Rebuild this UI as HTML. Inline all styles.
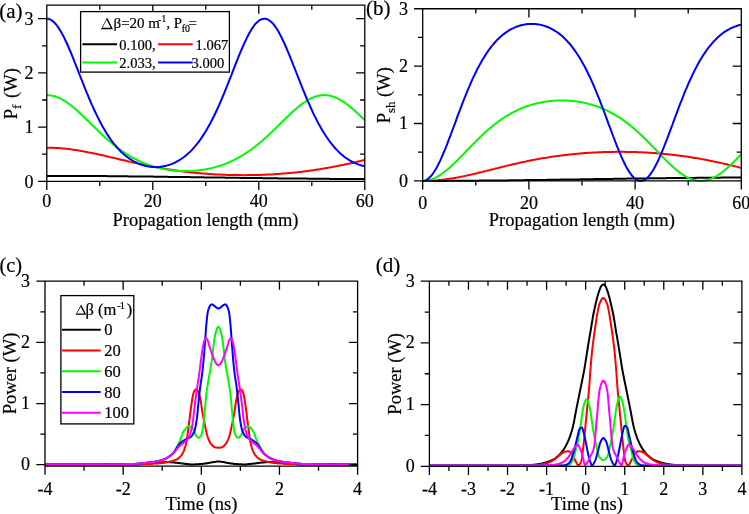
<!DOCTYPE html><html><head><meta charset="utf-8"><style>html,body{margin:0;padding:0;background:#fff;}svg{display:block}text{stroke:#000;stroke-width:0.2px}</style></head><body>
<svg style="will-change:transform" width="749" height="514" viewBox="0 0 749 514" font-family="'Liberation Serif', serif" fill="#000">
<rect width="749" height="514" fill="#fff"/>
<defs>
<clipPath id="ca"><rect x="46.8" y="2.2" width="318" height="182.1"/></clipPath>
<clipPath id="cb"><rect x="422.7" y="5.75" width="318.6" height="178.15"/></clipPath>
<clipPath id="cc"><rect x="45" y="278.2" width="312.6" height="190.9"/></clipPath>
<clipPath id="cd"><rect x="429.4" y="278.2" width="312.5" height="191.1"/></clipPath>
</defs>
<polyline points="46.8,175.9 48.1,175.9 49.4,175.9 50.8,175.9 52.1,175.9 53.4,175.9 54.8,175.9 56.1,175.9 57.4,175.9 58.7,175.9 60.0,175.9 61.4,175.9 62.7,175.9 64.0,175.9 65.3,175.9 66.7,175.9 68.0,175.9 69.3,175.9 70.7,175.9 72.0,175.9 73.3,175.9 74.6,175.9 75.9,175.9 77.3,175.9 78.6,176.0 79.9,176.0 81.2,176.0 82.6,176.0 83.9,176.0 85.2,176.0 86.5,176.0 87.9,176.0 89.2,176.0 90.5,176.0 91.8,176.0 93.2,176.0 94.5,176.0 95.8,176.1 97.2,176.1 98.5,176.1 99.8,176.1 101.1,176.1 102.4,176.1 103.8,176.1 105.1,176.1 106.4,176.1 107.8,176.2 109.1,176.2 110.4,176.2 111.7,176.2 113.0,176.2 114.4,176.2 115.7,176.2 117.0,176.2 118.3,176.2 119.7,176.3 121.0,176.3 122.3,176.3 123.6,176.3 125.0,176.3 126.3,176.3 127.6,176.3 128.9,176.4 130.3,176.4 131.6,176.4 132.9,176.4 134.2,176.4 135.6,176.4 136.9,176.4 138.2,176.5 139.6,176.5 140.9,176.5 142.2,176.5 143.5,176.5 144.8,176.5 146.2,176.6 147.5,176.6 148.8,176.6 150.1,176.6 151.5,176.6 152.8,176.6 154.1,176.7 155.4,176.7 156.8,176.7 158.1,176.7 159.4,176.7 160.8,176.7 162.1,176.8 163.4,176.8 164.7,176.8 166.1,176.8 167.4,176.8 168.7,176.9 170.0,176.9 171.3,176.9 172.7,176.9 174.0,176.9 175.3,176.9 176.6,177.0 178.0,177.0 179.3,177.0 180.6,177.0 181.9,177.0 183.3,177.1 184.6,177.1 185.9,177.1 187.2,177.1 188.6,177.1 189.9,177.1 191.2,177.2 192.6,177.2 193.9,177.2 195.2,177.2 196.5,177.2 197.9,177.3 199.2,177.3 200.5,177.3 201.8,177.3 203.1,177.3 204.5,177.4 205.8,177.4 207.1,177.4 208.4,177.4 209.8,177.4 211.1,177.5 212.4,177.5 213.8,177.5 215.1,177.5 216.4,177.5 217.7,177.5 219.1,177.6 220.4,177.6 221.7,177.6 223.0,177.6 224.4,177.6 225.7,177.7 227.0,177.7 228.3,177.7 229.6,177.7 231.0,177.7 232.3,177.8 233.6,177.8 234.9,177.8 236.3,177.8 237.6,177.8 238.9,177.8 240.2,177.9 241.6,177.9 242.9,177.9 244.2,177.9 245.6,177.9 246.9,178.0 248.2,178.0 249.5,178.0 250.9,178.0 252.2,178.0 253.5,178.0 254.8,178.1 256.1,178.1 257.5,178.1 258.8,178.1 260.1,178.1 261.4,178.1 262.8,178.2 264.1,178.2 265.4,178.2 266.8,178.2 268.1,178.2 269.4,178.2 270.7,178.3 272.1,178.3 273.4,178.3 274.7,178.3 276.0,178.3 277.4,178.3 278.7,178.4 280.0,178.4 281.3,178.4 282.6,178.4 284.0,178.4 285.3,178.4 286.6,178.4 287.9,178.5 289.3,178.5 290.6,178.5 291.9,178.5 293.2,178.5 294.6,178.5 295.9,178.5 297.2,178.6 298.6,178.6 299.9,178.6 301.2,178.6 302.5,178.6 303.9,178.6 305.2,178.6 306.5,178.6 307.8,178.7 309.2,178.7 310.5,178.7 311.8,178.7 313.1,178.7 314.4,178.7 315.8,178.7 317.1,178.7 318.4,178.8 319.8,178.8 321.1,178.8 322.4,178.8 323.7,178.8 325.1,178.8 326.4,178.8 327.7,178.8 329.0,178.8 330.4,178.9 331.7,178.9 333.0,178.9 334.3,178.9 335.7,178.9 337.0,178.9 338.3,178.9 339.6,178.9 340.9,178.9 342.3,178.9 343.6,178.9 344.9,179.0 346.2,179.0 347.6,179.0 348.9,179.0 350.2,179.0 351.6,179.0 352.9,179.0 354.2,179.0 355.5,179.0 356.9,179.0 358.2,179.0 359.5,179.0 360.8,179.0 362.2,179.1 363.5,179.1 364.8,179.1" fill="none" stroke="#000" stroke-width="2.0" stroke-linejoin="round" clip-path="url(#ca)"/>
<polyline points="422.7,180.9 424.0,180.9 425.4,180.9 426.7,180.9 428.0,180.9 429.3,180.9 430.7,180.9 432.0,180.9 433.3,180.9 434.6,180.9 436.0,180.9 437.3,180.9 438.6,180.9 440.0,180.9 441.3,180.9 442.6,180.9 443.9,180.9 445.3,180.9 446.6,180.9 447.9,180.8 449.2,180.8 450.6,180.8 451.9,180.8 453.2,180.8 454.6,180.8 455.9,180.8 457.2,180.8 458.5,180.8 459.9,180.8 461.2,180.8 462.5,180.8 463.9,180.8 465.2,180.8 466.5,180.7 467.8,180.7 469.2,180.7 470.5,180.7 471.8,180.7 473.1,180.7 474.5,180.7 475.8,180.7 477.1,180.7 478.5,180.7 479.8,180.6 481.1,180.6 482.4,180.6 483.8,180.6 485.1,180.6 486.4,180.6 487.7,180.6 489.1,180.6 490.4,180.5 491.7,180.5 493.1,180.5 494.4,180.5 495.7,180.5 497.0,180.5 498.4,180.5 499.7,180.5 501.0,180.4 502.3,180.4 503.7,180.4 505.0,180.4 506.3,180.4 507.7,180.4 509.0,180.3 510.3,180.3 511.6,180.3 513.0,180.3 514.3,180.3 515.6,180.3 517.0,180.2 518.3,180.2 519.6,180.2 520.9,180.2 522.3,180.2 523.6,180.2 524.9,180.1 526.2,180.1 527.6,180.1 528.9,180.1 530.2,180.1 531.6,180.1 532.9,180.0 534.2,180.0 535.5,180.0 536.9,180.0 538.2,180.0 539.5,179.9 540.8,179.9 542.2,179.9 543.5,179.9 544.8,179.9 546.2,179.9 547.5,179.8 548.8,179.8 550.1,179.8 551.5,179.8 552.8,179.8 554.1,179.7 555.4,179.7 556.8,179.7 558.1,179.7 559.4,179.7 560.8,179.6 562.1,179.6 563.4,179.6 564.7,179.6 566.1,179.6 567.4,179.5 568.7,179.5 570.1,179.5 571.4,179.5 572.7,179.5 574.0,179.4 575.4,179.4 576.7,179.4 578.0,179.4 579.3,179.4 580.7,179.3 582.0,179.3 583.3,179.3 584.7,179.3 586.0,179.3 587.3,179.2 588.6,179.2 590.0,179.2 591.3,179.2 592.6,179.2 593.9,179.1 595.3,179.1 596.6,179.1 597.9,179.1 599.3,179.1 600.6,179.0 601.9,179.0 603.2,179.0 604.6,179.0 605.9,179.0 607.2,178.9 608.5,178.9 609.9,178.9 611.2,178.9 612.5,178.9 613.9,178.8 615.2,178.8 616.5,178.8 617.8,178.8 619.2,178.8 620.5,178.7 621.8,178.7 623.2,178.7 624.5,178.7 625.8,178.7 627.1,178.6 628.5,178.6 629.8,178.6 631.1,178.6 632.4,178.6 633.8,178.6 635.1,178.5 636.4,178.5 637.8,178.5 639.1,178.5 640.4,178.5 641.7,178.5 643.1,178.4 644.4,178.4 645.7,178.4 647.0,178.4 648.4,178.4 649.7,178.3 651.0,178.3 652.4,178.3 653.7,178.3 655.0,178.3 656.3,178.3 657.7,178.2 659.0,178.2 660.3,178.2 661.6,178.2 663.0,178.2 664.3,178.2 665.6,178.2 667.0,178.1 668.3,178.1 669.6,178.1 670.9,178.1 672.3,178.1 673.6,178.1 674.9,178.1 676.3,178.0 677.6,178.0 678.9,178.0 680.2,178.0 681.6,178.0 682.9,178.0 684.2,178.0 685.5,177.9 686.9,177.9 688.2,177.9 689.5,177.9 690.9,177.9 692.2,177.9 693.5,177.9 694.8,177.9 696.2,177.8 697.5,177.8 698.8,177.8 700.1,177.8 701.5,177.8 702.8,177.8 704.1,177.8 705.5,177.8 706.8,177.7 708.1,177.7 709.4,177.7 710.8,177.7 712.1,177.7 713.4,177.7 714.8,177.7 716.1,177.7 717.4,177.7 718.7,177.7 720.1,177.7 721.4,177.6 722.7,177.6 724.0,177.6 725.4,177.6 726.7,177.6 728.0,177.6 729.4,177.6 730.7,177.6 732.0,177.6 733.3,177.6 734.7,177.6 736.0,177.6 737.3,177.5 738.6,177.5 740.0,177.5 741.3,177.5" fill="none" stroke="#000" stroke-width="2.0" stroke-linejoin="round" clip-path="url(#cb)"/>
<polyline points="46.8,147.7 48.1,147.7 49.4,147.7 50.8,147.7 52.1,147.8 53.4,147.8 54.8,147.9 56.1,147.9 57.4,148.0 58.7,148.1 60.0,148.2 61.4,148.3 62.7,148.4 64.0,148.5 65.3,148.7 66.7,148.8 68.0,149.0 69.3,149.1 70.7,149.3 72.0,149.5 73.3,149.7 74.6,149.9 75.9,150.1 77.3,150.3 78.6,150.5 79.9,150.7 81.2,150.9 82.6,151.2 83.9,151.4 85.2,151.7 86.5,151.9 87.9,152.2 89.2,152.4 90.5,152.7 91.8,153.0 93.2,153.3 94.5,153.5 95.8,153.8 97.2,154.1 98.5,154.4 99.8,154.7 101.1,155.0 102.4,155.3 103.8,155.6 105.1,155.9 106.4,156.2 107.8,156.5 109.1,156.9 110.4,157.2 111.7,157.5 113.0,157.8 114.4,158.1 115.7,158.4 117.0,158.7 118.3,159.1 119.7,159.4 121.0,159.7 122.3,160.0 123.6,160.3 125.0,160.6 126.3,160.9 127.6,161.2 128.9,161.5 130.3,161.9 131.6,162.2 132.9,162.5 134.2,162.8 135.6,163.1 136.9,163.3 138.2,163.6 139.6,163.9 140.9,164.2 142.2,164.5 143.5,164.8 144.8,165.1 146.2,165.3 147.5,165.6 148.8,165.9 150.1,166.1 151.5,166.4 152.8,166.6 154.1,166.9 155.4,167.1 156.8,167.4 158.1,167.6 159.4,167.9 160.8,168.1 162.1,168.3 163.4,168.6 164.7,168.8 166.1,169.0 167.4,169.2 168.7,169.4 170.0,169.6 171.3,169.8 172.7,170.0 174.0,170.2 175.3,170.4 176.6,170.6 178.0,170.8 179.3,171.0 180.6,171.2 181.9,171.3 183.3,171.5 184.6,171.7 185.9,171.8 187.2,172.0 188.6,172.1 189.9,172.3 191.2,172.4 192.6,172.6 193.9,172.7 195.2,172.8 196.5,173.0 197.9,173.1 199.2,173.2 200.5,173.3 201.8,173.4 203.1,173.5 204.5,173.6 205.8,173.8 207.1,173.8 208.4,173.9 209.8,174.0 211.1,174.1 212.4,174.2 213.8,174.3 215.1,174.4 216.4,174.4 217.7,174.5 219.1,174.6 220.4,174.6 221.7,174.7 223.0,174.7 224.4,174.8 225.7,174.8 227.0,174.9 228.3,174.9 229.6,175.0 231.0,175.0 232.3,175.0 233.6,175.1 234.9,175.1 236.3,175.1 237.6,175.1 238.9,175.1 240.2,175.1 241.6,175.2 242.9,175.2 244.2,175.2 245.6,175.2 246.9,175.1 248.2,175.1 249.5,175.1 250.9,175.1 252.2,175.1 253.5,175.1 254.8,175.0 256.1,175.0 257.5,175.0 258.8,174.9 260.1,174.9 261.4,174.8 262.8,174.8 264.1,174.7 265.4,174.7 266.8,174.6 268.1,174.6 269.4,174.5 270.7,174.4 272.1,174.4 273.4,174.3 274.7,174.2 276.0,174.1 277.4,174.0 278.7,173.9 280.0,173.8 281.3,173.7 282.6,173.6 284.0,173.5 285.3,173.4 286.6,173.3 287.9,173.2 289.3,173.1 290.6,173.0 291.9,172.8 293.2,172.7 294.6,172.6 295.9,172.4 297.2,172.3 298.6,172.1 299.9,172.0 301.2,171.8 302.5,171.7 303.9,171.5 305.2,171.3 306.5,171.2 307.8,171.0 309.2,170.8 310.5,170.6 311.8,170.4 313.1,170.2 314.4,170.0 315.8,169.8 317.1,169.6 318.4,169.4 319.8,169.2 321.1,169.0 322.4,168.8 323.7,168.6 325.1,168.3 326.4,168.1 327.7,167.9 329.0,167.6 330.4,167.4 331.7,167.1 333.0,166.9 334.3,166.6 335.7,166.4 337.0,166.1 338.3,165.8 339.6,165.6 340.9,165.3 342.3,165.0 343.6,164.8 344.9,164.5 346.2,164.2 347.6,163.9 348.9,163.6 350.2,163.3 351.6,163.0 352.9,162.7 354.2,162.4 355.5,162.1 356.9,161.8 358.2,161.5 359.5,161.2 360.8,160.9 362.2,160.6 363.5,160.3 364.8,160.0" fill="none" stroke="#ff0000" stroke-width="2.0" stroke-linejoin="round" clip-path="url(#ca)"/>
<polyline points="422.7,180.9 424.0,180.9 425.4,180.9 426.7,180.9 428.0,180.8 429.3,180.8 430.7,180.7 432.0,180.6 433.3,180.6 434.6,180.5 436.0,180.4 437.3,180.3 438.6,180.1 440.0,180.0 441.3,179.9 442.6,179.7 443.9,179.5 445.3,179.4 446.6,179.2 447.9,179.0 449.2,178.8 450.6,178.6 451.9,178.4 453.2,178.2 454.6,177.9 455.9,177.7 457.2,177.5 458.5,177.2 459.9,177.0 461.2,176.7 462.5,176.4 463.9,176.2 465.2,175.9 466.5,175.6 467.8,175.3 469.2,175.0 470.5,174.7 471.8,174.4 473.1,174.1 474.5,173.8 475.8,173.5 477.1,173.2 478.5,172.8 479.8,172.5 481.1,172.2 482.4,171.9 483.8,171.5 485.1,171.2 486.4,170.9 487.7,170.5 489.1,170.2 490.4,169.9 491.7,169.5 493.1,169.2 494.4,168.9 495.7,168.5 497.0,168.2 498.4,167.9 499.7,167.5 501.0,167.2 502.3,166.9 503.7,166.6 505.0,166.2 506.3,165.9 507.7,165.6 509.0,165.3 510.3,165.0 511.6,164.6 513.0,164.3 514.3,164.0 515.6,163.7 517.0,163.4 518.3,163.1 519.6,162.8 520.9,162.5 522.3,162.2 523.6,161.9 524.9,161.7 526.2,161.4 527.6,161.1 528.9,160.8 530.2,160.6 531.6,160.3 532.9,160.0 534.2,159.8 535.5,159.5 536.9,159.3 538.2,159.0 539.5,158.8 540.8,158.6 542.2,158.3 543.5,158.1 544.8,157.9 546.2,157.7 547.5,157.4 548.8,157.2 550.1,157.0 551.5,156.8 552.8,156.6 554.1,156.4 555.4,156.2 556.8,156.1 558.1,155.9 559.4,155.7 560.8,155.5 562.1,155.4 563.4,155.2 564.7,155.0 566.1,154.9 567.4,154.7 568.7,154.6 570.1,154.4 571.4,154.3 572.7,154.2 574.0,154.0 575.4,153.9 576.7,153.8 578.0,153.7 579.3,153.5 580.7,153.4 582.0,153.3 583.3,153.2 584.7,153.1 586.0,153.0 587.3,152.9 588.6,152.8 590.0,152.7 591.3,152.7 592.6,152.6 593.9,152.5 595.3,152.4 596.6,152.4 597.9,152.3 599.3,152.3 600.6,152.2 601.9,152.2 603.2,152.1 604.6,152.1 605.9,152.0 607.2,152.0 608.5,152.0 609.9,151.9 611.2,151.9 612.5,151.9 613.9,151.9 615.2,151.8 616.5,151.8 617.8,151.8 619.2,151.8 620.5,151.8 621.8,151.8 623.2,151.8 624.5,151.8 625.8,151.9 627.1,151.9 628.5,151.9 629.8,151.9 631.1,152.0 632.4,152.0 633.8,152.0 635.1,152.1 636.4,152.1 637.8,152.2 639.1,152.2 640.4,152.3 641.7,152.3 643.1,152.4 644.4,152.5 645.7,152.5 647.0,152.6 648.4,152.7 649.7,152.8 651.0,152.8 652.4,152.9 653.7,153.0 655.0,153.1 656.3,153.2 657.7,153.3 659.0,153.4 660.3,153.5 661.6,153.7 663.0,153.8 664.3,153.9 665.6,154.0 667.0,154.2 668.3,154.3 669.6,154.4 670.9,154.6 672.3,154.7 673.6,154.9 674.9,155.0 676.3,155.2 677.6,155.4 678.9,155.5 680.2,155.7 681.6,155.9 682.9,156.1 684.2,156.3 685.5,156.4 686.9,156.6 688.2,156.8 689.5,157.0 690.9,157.2 692.2,157.5 693.5,157.7 694.8,157.9 696.2,158.1 697.5,158.3 698.8,158.6 700.1,158.8 701.5,159.1 702.8,159.3 704.1,159.5 705.5,159.8 706.8,160.1 708.1,160.3 709.4,160.6 710.8,160.9 712.1,161.1 713.4,161.4 714.8,161.7 716.1,162.0 717.4,162.2 718.7,162.5 720.1,162.8 721.4,163.1 722.7,163.4 724.0,163.7 725.4,164.0 726.7,164.3 728.0,164.7 729.4,165.0 730.7,165.3 732.0,165.6 733.3,165.9 734.7,166.3 736.0,166.6 737.3,166.9 738.6,167.2 740.0,167.6 741.3,167.9" fill="none" stroke="#ff0000" stroke-width="2.0" stroke-linejoin="round" clip-path="url(#cb)"/>
<polyline points="46.8,95.1 48.1,95.2 49.4,95.3 50.8,95.4 52.1,95.7 53.4,96.0 54.8,96.3 56.1,96.8 57.4,97.2 58.7,97.8 60.0,98.4 61.4,99.1 62.7,99.8 64.0,100.6 65.3,101.4 66.7,102.3 68.0,103.2 69.3,104.2 70.7,105.2 72.0,106.2 73.3,107.3 74.6,108.4 75.9,109.6 77.3,110.8 78.6,112.0 79.9,113.2 81.2,114.4 82.6,115.7 83.9,117.0 85.2,118.2 86.5,119.5 87.9,120.8 89.2,122.1 90.5,123.4 91.8,124.7 93.2,126.0 94.5,127.3 95.8,128.6 97.2,129.9 98.5,131.2 99.8,132.5 101.1,133.7 102.4,135.0 103.8,136.2 105.1,137.4 106.4,138.6 107.8,139.7 109.1,140.9 110.4,142.0 111.7,143.1 113.0,144.2 114.4,145.3 115.7,146.4 117.0,147.4 118.3,148.4 119.7,149.4 121.0,150.3 122.3,151.2 123.6,152.1 125.0,153.0 126.3,153.9 127.6,154.7 128.9,155.5 130.3,156.3 131.6,157.1 132.9,157.8 134.2,158.5 135.6,159.2 136.9,159.9 138.2,160.6 139.6,161.2 140.9,161.8 142.2,162.4 143.5,162.9 144.8,163.5 146.2,164.0 147.5,164.5 148.8,165.0 150.1,165.4 151.5,165.8 152.8,166.3 154.1,166.7 155.4,167.0 156.8,167.4 158.1,167.7 159.4,168.1 160.8,168.4 162.1,168.7 163.4,168.9 164.7,169.2 166.1,169.4 167.4,169.6 168.7,169.9 170.0,170.0 171.3,170.2 172.7,170.4 174.0,170.5 175.3,170.6 176.6,170.7 178.0,170.8 179.3,170.9 180.6,171.0 181.9,171.0 183.3,171.1 184.6,171.1 185.9,171.1 187.2,171.1 188.6,171.0 189.9,171.0 191.2,170.9 192.6,170.9 193.9,170.8 195.2,170.7 196.5,170.6 197.9,170.4 199.2,170.3 200.5,170.1 201.8,169.9 203.1,169.7 204.5,169.5 205.8,169.3 207.1,169.0 208.4,168.8 209.8,168.5 211.1,168.2 212.4,167.9 213.8,167.5 215.1,167.2 216.4,166.8 217.7,166.4 219.1,166.0 220.4,165.6 221.7,165.1 223.0,164.7 224.4,164.2 225.7,163.7 227.0,163.1 228.3,162.6 229.6,162.0 231.0,161.4 232.3,160.8 233.6,160.2 234.9,159.5 236.3,158.8 237.6,158.1 238.9,157.4 240.2,156.6 241.6,155.9 242.9,155.1 244.2,154.2 245.6,153.4 246.9,152.5 248.2,151.6 249.5,150.7 250.9,149.7 252.2,148.8 253.5,147.8 254.8,146.8 256.1,145.7 257.5,144.7 258.8,143.6 260.1,142.5 261.4,141.4 262.8,140.2 264.1,139.1 265.4,137.9 266.8,136.7 268.1,135.4 269.4,134.2 270.7,133.0 272.1,131.7 273.4,130.4 274.7,129.2 276.0,127.9 277.4,126.6 278.7,125.3 280.0,124.0 281.3,122.7 282.6,121.4 284.0,120.1 285.3,118.8 286.6,117.5 287.9,116.2 289.3,114.9 290.6,113.7 291.9,112.5 293.2,111.2 294.6,110.1 295.9,108.9 297.2,107.8 298.6,106.7 299.9,105.6 301.2,104.6 302.5,103.6 303.9,102.7 305.2,101.8 306.5,100.9 307.8,100.1 309.2,99.4 310.5,98.7 311.8,98.0 313.1,97.5 314.4,96.9 315.8,96.5 317.1,96.1 318.4,95.8 319.8,95.5 321.1,95.3 322.4,95.2 323.7,95.1 325.1,95.1 326.4,95.2 327.7,95.3 329.0,95.6 330.4,95.8 331.7,96.2 333.0,96.6 334.3,97.0 335.7,97.6 337.0,98.2 338.3,98.8 339.6,99.5 340.9,100.3 342.3,101.1 343.6,101.9 344.9,102.8 346.2,103.8 347.6,104.8 348.9,105.8 350.2,106.9 351.6,108.0 352.9,109.1 354.2,110.3 355.5,111.5 356.9,112.7 358.2,113.9 359.5,115.2 360.8,116.4 362.2,117.7 363.5,119.0 364.8,120.3" fill="none" stroke="#00fa00" stroke-width="2.0" stroke-linejoin="round" clip-path="url(#ca)"/>
<polyline points="422.7,180.9 424.0,180.9 425.4,180.8 426.7,180.6 428.0,180.3 429.3,180.0 430.7,179.6 432.0,179.2 433.3,178.6 434.6,178.1 436.0,177.4 437.3,176.7 438.6,175.9 440.0,175.1 441.3,174.2 442.6,173.3 443.9,172.3 445.3,171.3 446.6,170.2 447.9,169.1 449.2,168.0 450.6,166.8 451.9,165.6 453.2,164.3 454.6,163.1 455.9,161.8 457.2,160.5 458.5,159.1 459.9,157.8 461.2,156.4 462.5,155.1 463.9,153.7 465.2,152.3 466.5,150.9 467.8,149.5 469.2,148.2 470.5,146.8 471.8,145.4 473.1,144.1 474.5,142.7 475.8,141.4 477.1,140.0 478.5,138.7 479.8,137.4 481.1,136.2 482.4,134.9 483.8,133.7 485.1,132.4 486.4,131.2 487.7,130.1 489.1,128.9 490.4,127.8 491.7,126.7 493.1,125.6 494.4,124.5 495.7,123.5 497.0,122.5 498.4,121.5 499.7,120.5 501.0,119.6 502.3,118.7 503.7,117.8 505.0,116.9 506.3,116.1 507.7,115.3 509.0,114.5 510.3,113.8 511.6,113.0 513.0,112.3 514.3,111.6 515.6,111.0 517.0,110.3 518.3,109.7 519.6,109.1 520.9,108.5 522.3,108.0 523.6,107.5 524.9,107.0 526.2,106.5 527.6,106.0 528.9,105.6 530.2,105.2 531.6,104.8 532.9,104.4 534.2,104.0 535.5,103.7 536.9,103.3 538.2,103.0 539.5,102.8 540.8,102.5 542.2,102.2 543.5,102.0 544.8,101.8 546.2,101.6 547.5,101.4 548.8,101.2 550.1,101.1 551.5,101.0 552.8,100.8 554.1,100.7 555.4,100.7 556.8,100.6 558.1,100.5 559.4,100.5 560.8,100.5 562.1,100.5 563.4,100.5 564.7,100.5 566.1,100.6 567.4,100.6 568.7,100.7 570.1,100.8 571.4,100.9 572.7,101.0 574.0,101.2 575.4,101.3 576.7,101.5 578.0,101.7 579.3,101.9 580.7,102.1 582.0,102.4 583.3,102.6 584.7,102.9 586.0,103.2 587.3,103.5 588.6,103.9 590.0,104.2 591.3,104.6 592.6,105.0 593.9,105.4 595.3,105.8 596.6,106.3 597.9,106.8 599.3,107.3 600.6,107.8 601.9,108.3 603.2,108.9 604.6,109.5 605.9,110.1 607.2,110.7 608.5,111.4 609.9,112.0 611.2,112.7 612.5,113.5 613.9,114.2 615.2,115.0 616.5,115.8 617.8,116.6 619.2,117.4 620.5,118.3 621.8,119.2 623.2,120.1 624.5,121.1 625.8,122.1 627.1,123.1 628.5,124.1 629.8,125.1 631.1,126.2 632.4,127.3 633.8,128.4 635.1,129.6 636.4,130.8 637.8,131.9 639.1,133.2 640.4,134.4 641.7,135.6 643.1,136.9 644.4,138.2 645.7,139.5 647.0,140.8 648.4,142.2 649.7,143.5 651.0,144.9 652.4,146.2 653.7,147.6 655.0,149.0 656.3,150.4 657.7,151.7 659.0,153.1 660.3,154.5 661.6,155.9 663.0,157.2 664.3,158.6 665.6,159.9 667.0,161.2 668.3,162.6 669.6,163.8 670.9,165.1 672.3,166.3 673.6,167.5 674.9,168.7 676.3,169.8 677.6,170.9 678.9,171.9 680.2,172.9 681.6,173.9 682.9,174.8 684.2,175.6 685.5,176.4 686.9,177.1 688.2,177.8 689.5,178.4 690.9,179.0 692.2,179.4 693.5,179.9 694.8,180.2 696.2,180.5 697.5,180.7 698.8,180.8 700.1,180.9 701.5,180.9 702.8,180.8 704.1,180.7 705.5,180.4 706.8,180.1 708.1,179.8 709.4,179.4 710.8,178.9 712.1,178.3 713.4,177.7 714.8,177.0 716.1,176.3 717.4,175.5 718.7,174.6 720.1,173.7 721.4,172.7 722.7,171.7 724.0,170.7 725.4,169.6 726.7,168.4 728.0,167.3 729.4,166.1 730.7,164.8 732.0,163.6 733.3,162.3 734.7,161.0 736.0,159.7 737.3,158.3 738.6,157.0 740.0,155.6 741.3,154.2" fill="none" stroke="#00fa00" stroke-width="2.0" stroke-linejoin="round" clip-path="url(#cb)"/>
<polyline points="46.8,18.7 48.1,18.8 49.4,19.2 50.8,19.8 52.1,20.6 53.4,21.7 54.8,23.0 56.1,24.5 57.4,26.2 58.7,28.1 60.0,30.2 61.4,32.4 62.7,34.9 64.0,37.4 65.3,40.2 66.7,43.0 68.0,46.0 69.3,49.0 70.7,52.2 72.0,55.4 73.3,58.7 74.6,62.0 75.9,65.3 77.3,68.7 78.6,72.1 79.9,75.5 81.2,78.9 82.6,82.2 83.9,85.6 85.2,88.9 86.5,92.1 87.9,95.4 89.2,98.5 90.5,101.6 91.8,104.6 93.2,107.6 94.5,110.5 95.8,113.3 97.2,116.1 98.5,118.7 99.8,121.3 101.1,123.8 102.4,126.2 103.8,128.6 105.1,130.8 106.4,133.0 107.8,135.1 109.1,137.1 110.4,139.0 111.7,140.8 113.0,142.6 114.4,144.3 115.7,145.9 117.0,147.5 118.3,148.9 119.7,150.3 121.0,151.7 122.3,152.9 123.6,154.1 125.0,155.3 126.3,156.3 127.6,157.3 128.9,158.3 130.3,159.2 131.6,160.0 132.9,160.8 134.2,161.6 135.6,162.2 136.9,162.9 138.2,163.5 139.6,164.0 140.9,164.5 142.2,164.9 143.5,165.3 144.8,165.7 146.2,166.0 147.5,166.3 148.8,166.5 150.1,166.7 151.5,166.8 152.8,166.9 154.1,167.0 155.4,167.0 156.8,167.0 158.1,166.9 159.4,166.9 160.8,166.7 162.1,166.5 163.4,166.3 164.7,166.0 166.1,165.7 167.4,165.4 168.7,165.0 170.0,164.6 171.3,164.1 172.7,163.6 174.0,163.0 175.3,162.4 176.6,161.7 178.0,161.0 179.3,160.2 180.6,159.3 181.9,158.5 183.3,157.5 184.6,156.5 185.9,155.4 187.2,154.3 188.6,153.1 189.9,151.9 191.2,150.6 192.6,149.2 193.9,147.7 195.2,146.2 196.5,144.6 197.9,142.9 199.2,141.1 200.5,139.3 201.8,137.4 203.1,135.4 204.5,133.3 205.8,131.2 207.1,128.9 208.4,126.6 209.8,124.2 211.1,121.7 212.4,119.2 213.8,116.5 215.1,113.8 216.4,111.0 217.7,108.1 219.1,105.2 220.4,102.1 221.7,99.0 223.0,95.9 224.4,92.7 225.7,89.4 227.0,86.1 228.3,82.8 229.6,79.4 231.0,76.1 232.3,72.7 233.6,69.3 234.9,65.9 236.3,62.5 237.6,59.2 238.9,55.9 240.2,52.7 241.6,49.5 242.9,46.5 244.2,43.5 245.6,40.6 246.9,37.9 248.2,35.3 249.5,32.8 250.9,30.5 252.2,28.4 253.5,26.5 254.8,24.7 256.1,23.2 257.5,21.9 258.8,20.8 260.1,19.9 261.4,19.3 262.8,18.9 264.1,18.7 265.4,18.8 266.8,19.1 268.1,19.7 269.4,20.5 270.7,21.5 272.1,22.7 273.4,24.2 274.7,25.9 276.0,27.7 277.4,29.8 278.7,32.0 280.0,34.4 281.3,37.0 282.6,39.7 284.0,42.5 285.3,45.5 286.6,48.5 287.9,51.6 289.3,54.8 290.6,58.1 291.9,61.4 293.2,64.8 294.6,68.1 295.9,71.5 297.2,74.9 298.6,78.3 299.9,81.7 301.2,85.0 302.5,88.3 303.9,91.6 305.2,94.8 306.5,98.0 307.8,101.1 309.2,104.1 310.5,107.1 311.8,110.0 313.1,112.9 314.4,115.6 315.8,118.3 317.1,120.9 318.4,123.4 319.8,125.8 321.1,128.2 322.4,130.4 323.7,132.6 325.1,134.7 326.4,136.7 327.7,138.7 329.0,140.5 330.4,142.3 331.7,144.0 333.0,145.6 334.3,147.2 335.7,148.7 337.0,150.1 338.3,151.4 339.6,152.7 340.9,153.9 342.3,155.1 343.6,156.2 344.9,157.2 346.2,158.1 347.6,159.0 348.9,159.9 350.2,160.7 351.6,161.4 352.9,162.1 354.2,162.8 355.5,163.4 356.9,163.9 358.2,164.4 359.5,164.9 360.8,165.3 362.2,165.6 363.5,166.0 364.8,166.2" fill="none" stroke="#0000ff" stroke-width="2.0" stroke-linejoin="round" clip-path="url(#ca)"/>
<polyline points="422.7,180.9 424.0,180.8 425.4,180.4 426.7,179.8 428.0,178.9 429.3,177.8 430.7,176.4 432.0,174.8 433.3,173.0 434.6,171.0 436.0,168.8 437.3,166.4 438.6,163.8 440.0,161.1 441.3,158.2 442.6,155.2 443.9,152.0 445.3,148.8 446.6,145.5 447.9,142.1 449.2,138.6 450.6,135.1 451.9,131.5 453.2,128.0 454.6,124.4 455.9,120.8 457.2,117.2 458.5,113.6 459.9,110.1 461.2,106.6 462.5,103.1 463.9,99.7 465.2,96.4 466.5,93.1 467.8,89.9 469.2,86.8 470.5,83.7 471.8,80.7 473.1,77.8 474.5,75.0 475.8,72.3 477.1,69.6 478.5,67.1 479.8,64.6 481.1,62.2 482.4,59.9 483.8,57.7 485.1,55.6 486.4,53.5 487.7,51.6 489.1,49.7 490.4,47.9 491.7,46.2 493.1,44.6 494.4,43.0 495.7,41.5 497.0,40.1 498.4,38.8 499.7,37.5 501.0,36.3 502.3,35.2 503.7,34.1 505.0,33.1 506.3,32.2 507.7,31.3 509.0,30.4 510.3,29.6 511.6,28.9 513.0,28.3 514.3,27.6 515.6,27.1 517.0,26.5 518.3,26.1 519.6,25.7 520.9,25.3 522.3,24.9 523.6,24.7 524.9,24.4 526.2,24.2 527.6,24.1 528.9,24.0 530.2,23.9 531.6,23.9 532.9,23.9 534.2,23.9 535.5,24.0 536.9,24.2 538.2,24.4 539.5,24.6 540.8,24.9 542.2,25.2 543.5,25.6 544.8,26.0 546.2,26.5 547.5,27.0 548.8,27.5 550.1,28.1 551.5,28.8 552.8,29.5 554.1,30.3 555.4,31.1 556.8,32.0 558.1,32.9 559.4,33.9 560.8,35.0 562.1,36.1 563.4,37.3 564.7,38.6 566.1,39.9 567.4,41.3 568.7,42.8 570.1,44.3 571.4,45.9 572.7,47.6 574.0,49.4 575.4,51.3 576.7,53.2 578.0,55.2 579.3,57.3 580.7,59.5 582.0,61.8 583.3,64.2 584.7,66.6 586.0,69.2 587.3,71.8 588.6,74.5 590.0,77.3 591.3,80.2 592.6,83.2 593.9,86.2 595.3,89.4 596.6,92.6 597.9,95.8 599.3,99.2 600.6,102.6 601.9,106.0 603.2,109.5 604.6,113.0 605.9,116.6 607.2,120.2 608.5,123.8 609.9,127.3 611.2,130.9 612.5,134.5 613.9,138.0 615.2,141.5 616.5,144.9 617.8,148.2 619.2,151.5 620.5,154.6 621.8,157.7 623.2,160.6 624.5,163.3 625.8,166.0 627.1,168.4 628.5,170.6 629.8,172.7 631.1,174.5 632.4,176.1 633.8,177.5 635.1,178.7 636.4,179.6 637.8,180.3 639.1,180.7 640.4,180.9 641.7,180.8 643.1,180.5 644.4,179.9 645.7,179.0 647.0,178.0 648.4,176.6 649.7,175.1 651.0,173.3 652.4,171.3 653.7,169.2 655.0,166.8 656.3,164.2 657.7,161.5 659.0,158.7 660.3,155.7 661.6,152.6 663.0,149.4 664.3,146.0 665.6,142.6 667.0,139.2 668.3,135.7 669.6,132.1 670.9,128.6 672.3,125.0 673.6,121.4 674.9,117.8 676.3,114.2 677.6,110.7 678.9,107.2 680.2,103.7 681.6,100.3 682.9,97.0 684.2,93.7 685.5,90.4 686.9,87.3 688.2,84.2 689.5,81.2 690.9,78.3 692.2,75.5 693.5,72.7 694.8,70.1 696.2,67.5 697.5,65.0 698.8,62.6 700.1,60.3 701.5,58.1 702.8,55.9 704.1,53.9 705.5,51.9 706.8,50.0 708.1,48.2 709.4,46.5 710.8,44.8 712.1,43.3 713.4,41.8 714.8,40.4 716.1,39.0 717.4,37.7 718.7,36.5 720.1,35.4 721.4,34.3 722.7,33.3 724.0,32.3 725.4,31.4 726.7,30.6 728.0,29.8 729.4,29.0 730.7,28.4 732.0,27.7 733.3,27.2 734.7,26.6 736.0,26.2 737.3,25.7 738.6,25.3 740.0,25.0 741.3,24.7" fill="none" stroke="#0000ff" stroke-width="2.0" stroke-linejoin="round" clip-path="url(#cb)"/>
<polyline points="45.0,464.6 45.5,464.6 46.0,464.6 46.5,464.6 47.0,464.6 47.5,464.6 48.0,464.6 48.5,464.6 49.0,464.6 49.5,464.6 50.0,464.6 50.5,464.6 51.0,464.6 51.5,464.6 52.0,464.6 52.5,464.6 53.0,464.6 53.5,464.6 54.0,464.6 54.5,464.6 55.0,464.6 55.5,464.6 56.0,464.6 56.5,464.6 57.0,464.6 57.5,464.6 58.0,464.6 58.5,464.6 59.0,464.6 59.5,464.6 60.0,464.6 60.5,464.6 61.0,464.6 61.5,464.6 62.0,464.6 62.5,464.6 63.0,464.6 63.5,464.6 64.0,464.6 64.5,464.6 65.0,464.6 65.5,464.6 66.0,464.6 66.5,464.6 67.0,464.6 67.5,464.6 68.0,464.6 68.5,464.6 69.0,464.6 69.5,464.6 70.0,464.6 70.5,464.6 71.0,464.6 71.5,464.6 72.0,464.6 72.5,464.6 73.0,464.6 73.5,464.6 74.0,464.6 74.5,464.6 75.0,464.6 75.5,464.6 76.0,464.6 76.5,464.6 77.0,464.6 77.5,464.6 78.0,464.6 78.5,464.6 79.0,464.6 79.5,464.6 80.0,464.6 80.5,464.6 81.0,464.6 81.5,464.6 82.0,464.6 82.5,464.6 83.0,464.6 83.5,464.6 84.0,464.6 84.5,464.6 85.0,464.6 85.5,464.6 86.0,464.6 86.5,464.6 87.0,464.6 87.5,464.6 88.0,464.6 88.5,464.6 89.0,464.6 89.5,464.6 90.0,464.6 90.5,464.6 91.0,464.6 91.5,464.6 92.0,464.6 92.5,464.6 93.0,464.6 93.5,464.6 94.0,464.6 94.5,464.6 95.0,464.6 95.5,464.6 96.0,464.6 96.5,464.6 97.0,464.6 97.5,464.6 98.0,464.6 98.5,464.6 99.0,464.6 99.5,464.6 100.0,464.6 100.5,464.6 101.0,464.6 101.5,464.6 102.0,464.6 102.5,464.6 103.0,464.6 103.5,464.6 104.0,464.6 104.5,464.6 105.0,464.6 105.5,464.6 106.0,464.6 106.5,464.6 107.0,464.6 107.5,464.6 108.0,464.6 108.5,464.6 109.0,464.5 109.5,464.5 110.0,464.5 110.5,464.5 111.0,464.5 111.5,464.5 112.0,464.5 112.5,464.5 113.0,464.5 113.5,464.5 114.0,464.5 114.5,464.5 115.0,464.5 115.5,464.5 116.0,464.5 116.5,464.5 117.0,464.5 117.5,464.5 118.0,464.5 118.5,464.5 119.0,464.5 119.5,464.5 120.0,464.5 120.5,464.5 121.0,464.5 121.5,464.5 122.0,464.5 122.5,464.5 123.0,464.5 123.5,464.5 124.0,464.5 124.5,464.5 125.0,464.5 125.5,464.5 126.0,464.5 126.5,464.5 127.0,464.5 127.5,464.5 128.0,464.5 128.5,464.5 129.0,464.5 129.5,464.5 130.0,464.5 130.5,464.5 131.0,464.5 131.5,464.5 132.0,464.5 132.5,464.5 133.0,464.5 133.5,464.5 134.0,464.4 134.5,464.4 135.0,464.4 135.5,464.4 136.0,464.4 136.5,464.4 137.0,464.3 137.5,464.3 138.0,464.3 138.5,464.3 139.0,464.3 139.5,464.2 140.0,464.2 140.5,464.2 141.0,464.2 141.5,464.1 142.0,464.1 142.5,464.1 143.0,464.1 143.5,464.0 144.0,464.0 144.5,464.0 145.0,463.9 145.5,463.9 146.0,463.9 146.5,463.8 147.0,463.8 147.5,463.8 148.0,463.7 148.5,463.7 149.0,463.7 149.5,463.6 150.0,463.6 150.5,463.6 151.0,463.5 151.5,463.5 152.0,463.4 152.5,463.3 153.0,463.3 153.5,463.2 154.0,463.1 154.5,463.1 155.0,463.0 155.5,462.9 156.0,462.8 156.5,462.8 157.0,462.7 157.5,462.6 158.0,462.6 158.5,462.5 159.0,462.5 159.5,462.4 160.0,462.4 160.5,462.4 161.0,462.3 161.5,462.3 162.0,462.3 162.5,462.3 163.0,462.2 163.5,462.2 164.0,462.2 164.5,462.2 165.0,462.2 165.5,462.1 166.0,462.1 166.5,462.1 167.0,462.1 167.5,462.1 168.0,462.1 168.5,462.1 169.0,462.1 169.5,462.1 170.0,462.2 170.5,462.2 171.0,462.2 171.5,462.3 172.0,462.3 172.5,462.4 173.0,462.4 173.5,462.5 174.0,462.5 174.5,462.6 175.0,462.6 175.5,462.7 176.0,462.7 176.5,462.7 177.0,462.8 177.5,462.9 178.0,462.9 178.5,463.0 179.0,463.1 179.5,463.1 180.0,463.2 180.5,463.3 181.0,463.3 181.5,463.4 182.0,463.5 182.5,463.5 183.0,463.6 183.5,463.6 184.0,463.7 184.5,463.8 185.0,463.8 185.5,463.9 186.0,463.9 186.5,464.0 187.0,464.0 187.5,464.1 188.0,464.2 188.5,464.2 189.0,464.3 189.5,464.3 190.0,464.3 190.5,464.4 191.0,464.4 191.5,464.4 192.0,464.4 192.5,464.4 193.0,464.4 193.5,464.4 194.0,464.4 194.5,464.4 195.0,464.3 195.5,464.3 196.0,464.3 196.5,464.3 197.0,464.3 197.5,464.2 198.0,464.2 198.5,464.2 199.0,464.2 199.5,464.1 200.0,464.1 200.5,464.1 201.0,464.0 201.5,464.0 202.0,463.9 202.5,463.9 203.0,463.8 203.5,463.8 204.0,463.7 204.5,463.6 205.0,463.6 205.5,463.5 206.0,463.4 206.5,463.3 207.0,463.3 207.5,463.2 208.0,463.1 208.5,463.0 209.0,462.9 209.5,462.8 210.0,462.7 210.5,462.6 211.0,462.5 211.5,462.4 212.0,462.3 212.5,462.2 213.0,462.2 213.5,462.1 214.0,462.0 214.5,461.9 215.0,461.9 215.5,461.8 216.0,461.7 216.5,461.6 217.0,461.6 217.5,461.5 218.0,461.5 218.5,461.5 219.0,461.5 219.5,461.5 220.0,461.6 220.5,461.7 221.0,461.7 221.5,461.8 222.0,461.9 222.5,462.0 223.0,462.0 223.5,462.1 224.0,462.2 224.5,462.3 225.0,462.4 225.5,462.5 226.0,462.6 226.5,462.7 227.0,462.8 227.5,462.9 228.0,463.0 228.5,463.1 229.0,463.1 229.5,463.2 230.0,463.3 230.5,463.4 231.0,463.4 231.5,463.5 232.0,463.6 232.5,463.7 233.0,463.7 233.5,463.8 234.0,463.8 234.5,463.9 235.0,464.0 235.5,464.0 236.0,464.0 236.5,464.1 237.0,464.1 237.5,464.1 238.0,464.2 238.5,464.2 239.0,464.2 239.5,464.2 240.0,464.3 240.5,464.3 241.0,464.3 241.5,464.3 242.0,464.4 242.5,464.4 243.0,464.4 243.5,464.4 244.0,464.4 244.5,464.4 245.0,464.4 245.5,464.4 246.0,464.4 246.5,464.3 247.0,464.3 247.5,464.3 248.0,464.2 248.5,464.2 249.0,464.1 249.5,464.1 250.0,464.0 250.5,464.0 251.0,463.9 251.5,463.8 252.0,463.8 252.5,463.7 253.0,463.7 253.5,463.6 254.0,463.6 254.5,463.5 255.0,463.4 255.5,463.4 256.0,463.3 256.5,463.2 257.0,463.2 257.5,463.1 258.0,463.0 258.5,463.0 259.0,462.9 259.5,462.8 260.0,462.8 260.5,462.7 261.0,462.7 261.5,462.6 262.0,462.6 262.5,462.5 263.0,462.5 263.5,462.4 264.0,462.4 264.5,462.3 265.0,462.3 265.5,462.2 266.0,462.2 266.5,462.2 267.0,462.1 267.5,462.1 268.0,462.1 268.5,462.1 269.0,462.1 269.5,462.1 270.0,462.1 270.5,462.1 271.0,462.1 271.5,462.1 272.0,462.2 272.5,462.2 273.0,462.2 273.5,462.2 274.0,462.2 274.5,462.3 275.0,462.3 275.5,462.3 276.0,462.4 276.5,462.4 277.0,462.4 277.5,462.4 278.0,462.5 278.5,462.5 279.0,462.6 279.5,462.7 280.0,462.7 280.5,462.8 281.0,462.9 281.5,462.9 282.0,463.0 282.5,463.1 283.0,463.2 283.5,463.2 284.0,463.3 284.5,463.4 285.0,463.4 285.5,463.5 286.0,463.5 286.5,463.6 287.0,463.6 287.5,463.6 288.0,463.7 288.5,463.7 289.0,463.7 289.5,463.8 290.0,463.8 290.5,463.8 291.0,463.9 291.5,463.9 292.0,463.9 292.5,464.0 293.0,464.0 293.5,464.0 294.0,464.1 294.5,464.1 295.0,464.1 295.5,464.1 296.0,464.2 296.5,464.2 297.0,464.2 297.5,464.2 298.0,464.3 298.5,464.3 299.0,464.3 299.5,464.3 300.0,464.4 300.5,464.4 301.0,464.4 301.5,464.4 302.0,464.4 302.5,464.4 303.0,464.4 303.5,464.5 304.0,464.5 304.5,464.5 305.0,464.5 305.5,464.5 306.0,464.5 306.5,464.5 307.0,464.5 307.5,464.5 308.0,464.5 308.5,464.5 309.0,464.5 309.5,464.5 310.0,464.5 310.5,464.5 311.0,464.5 311.5,464.5 312.0,464.5 312.5,464.5 313.0,464.5 313.5,464.5 314.0,464.5 314.5,464.5 315.0,464.5 315.5,464.5 316.0,464.5 316.5,464.5 317.0,464.5 317.5,464.5 318.0,464.5 318.5,464.5 319.0,464.5 319.5,464.5 320.0,464.5 320.5,464.5 321.0,464.5 321.5,464.5 322.0,464.5 322.5,464.5 323.0,464.5 323.5,464.5 324.0,464.5 324.5,464.5 325.0,464.5 325.5,464.5 326.0,464.5 326.5,464.5 327.0,464.5 327.5,464.5 328.0,464.5 328.5,464.6 329.0,464.6 329.5,464.6 330.0,464.6 330.5,464.6 331.0,464.6 331.5,464.6 332.0,464.6 332.5,464.6 333.0,464.6 333.5,464.6 334.0,464.6 334.5,464.6 335.0,464.6 335.5,464.6 336.0,464.6 336.5,464.6 337.0,464.6 337.5,464.6 338.0,464.6 338.5,464.6 339.0,464.6 339.5,464.6 340.0,464.6 340.5,464.6 341.0,464.6 341.5,464.6 342.0,464.6 342.5,464.6 343.0,464.6 343.5,464.6 344.0,464.6 344.5,464.6 345.0,464.6 345.5,464.6 346.0,464.6 346.5,464.6 347.0,464.6 347.5,464.6 348.0,464.6 348.5,464.6 349.0,464.6 349.5,464.6 350.0,464.6 350.5,464.6 351.0,464.6 351.5,464.6 352.0,464.6 352.5,464.6 353.0,464.6 353.5,464.6 354.0,464.6 354.5,464.6 355.0,464.6 355.5,464.6 356.0,464.6 356.5,464.6 357.0,464.6 357.5,464.6 358.0,464.6 358.5,464.6 359.0,464.6 359.5,464.6 360.0,464.6 360.5,464.6 361.0,464.6 361.5,464.6 362.0,464.6 362.5,464.6 363.0,464.6 363.5,464.6 364.0,464.6 364.5,464.6 365.0,464.6 365.5,464.6 366.0,464.6 366.5,464.6 367.0,464.6 367.5,464.6 368.0,464.6 368.5,464.6 369.0,464.6 369.5,464.6 370.0,464.6 370.5,464.6 371.0,464.6 371.5,464.6 372.0,464.6 372.5,464.6 373.0,464.6 373.5,464.6 374.0,464.6 374.5,464.6 375.0,464.6 375.5,464.6 376.0,464.6 376.5,464.6 377.0,464.6 377.5,464.6 378.0,464.6 378.5,464.6 379.0,464.6 379.5,464.6 380.0,464.6 380.5,464.6 381.0,464.6 381.5,464.6 382.0,464.6 382.5,464.6 383.0,464.6 383.5,464.6 384.0,464.6 384.5,464.6 385.0,464.6 385.5,464.6 386.0,464.6 386.5,464.6 387.0,464.6 387.5,464.6 388.0,464.6 388.5,464.6 389.0,464.6 389.5,464.6 390.0,464.6 390.5,464.6 391.0,464.6 391.5,464.6" fill="none" stroke="#000" stroke-width="2" stroke-linejoin="round" clip-path="url(#cc)"/>
<polyline points="45.0,464.6 45.5,464.6 46.0,464.6 46.5,464.6 47.0,464.6 47.5,464.6 48.0,464.6 48.5,464.6 49.0,464.6 49.5,464.6 50.0,464.6 50.5,464.6 51.0,464.6 51.5,464.6 52.0,464.6 52.5,464.6 53.0,464.6 53.5,464.6 54.0,464.6 54.5,464.6 55.0,464.6 55.5,464.6 56.0,464.6 56.5,464.6 57.0,464.6 57.5,464.6 58.0,464.6 58.5,464.6 59.0,464.6 59.5,464.6 60.0,464.6 60.5,464.6 61.0,464.6 61.5,464.6 62.0,464.6 62.5,464.6 63.0,464.6 63.5,464.6 64.0,464.6 64.5,464.6 65.0,464.6 65.5,464.6 66.0,464.6 66.5,464.6 67.0,464.6 67.5,464.6 68.0,464.6 68.5,464.6 69.0,464.6 69.5,464.6 70.0,464.6 70.5,464.6 71.0,464.6 71.5,464.6 72.0,464.6 72.5,464.6 73.0,464.6 73.5,464.6 74.0,464.6 74.5,464.6 75.0,464.6 75.5,464.6 76.0,464.6 76.5,464.6 77.0,464.6 77.5,464.6 78.0,464.6 78.5,464.6 79.0,464.6 79.5,464.6 80.0,464.6 80.5,464.6 81.0,464.6 81.5,464.6 82.0,464.6 82.5,464.6 83.0,464.6 83.5,464.6 84.0,464.6 84.5,464.6 85.0,464.6 85.5,464.6 86.0,464.6 86.5,464.6 87.0,464.6 87.5,464.6 88.0,464.6 88.5,464.6 89.0,464.6 89.5,464.6 90.0,464.6 90.5,464.5 91.0,464.5 91.5,464.5 92.0,464.5 92.5,464.5 93.0,464.5 93.5,464.5 94.0,464.5 94.5,464.5 95.0,464.5 95.5,464.5 96.0,464.5 96.5,464.5 97.0,464.5 97.5,464.5 98.0,464.5 98.5,464.5 99.0,464.5 99.5,464.5 100.0,464.5 100.5,464.5 101.0,464.5 101.5,464.5 102.0,464.5 102.5,464.5 103.0,464.5 103.5,464.5 104.0,464.5 104.5,464.5 105.0,464.5 105.5,464.5 106.0,464.5 106.5,464.5 107.0,464.5 107.5,464.5 108.0,464.5 108.5,464.5 109.0,464.5 109.5,464.5 110.0,464.5 110.5,464.5 111.0,464.5 111.5,464.5 112.0,464.5 112.5,464.5 113.0,464.5 113.5,464.5 114.0,464.5 114.5,464.5 115.0,464.5 115.5,464.5 116.0,464.5 116.5,464.5 117.0,464.5 117.5,464.5 118.0,464.5 118.5,464.5 119.0,464.5 119.5,464.5 120.0,464.4 120.5,464.4 121.0,464.4 121.5,464.4 122.0,464.4 122.5,464.4 123.0,464.4 123.5,464.4 124.0,464.4 124.5,464.4 125.0,464.4 125.5,464.4 126.0,464.4 126.5,464.4 127.0,464.4 127.5,464.4 128.0,464.4 128.5,464.4 129.0,464.4 129.5,464.4 130.0,464.4 130.5,464.4 131.0,464.4 131.5,464.4 132.0,464.4 132.5,464.4 133.0,464.4 133.5,464.4 134.0,464.3 134.5,464.3 135.0,464.3 135.5,464.3 136.0,464.3 136.5,464.3 137.0,464.3 137.5,464.3 138.0,464.3 138.5,464.2 139.0,464.2 139.5,464.2 140.0,464.2 140.5,464.2 141.0,464.2 141.5,464.1 142.0,464.1 142.5,464.1 143.0,464.1 143.5,464.1 144.0,464.0 144.5,464.0 145.0,464.0 145.5,464.0 146.0,464.0 146.5,463.9 147.0,463.9 147.5,463.9 148.0,463.9 148.5,463.9 149.0,463.8 149.5,463.8 150.0,463.8 150.5,463.8 151.0,463.8 151.5,463.7 152.0,463.7 152.5,463.7 153.0,463.7 153.5,463.6 154.0,463.6 154.5,463.6 155.0,463.6 155.5,463.5 156.0,463.5 156.5,463.5 157.0,463.5 157.5,463.4 158.0,463.4 158.5,463.3 159.0,463.3 159.5,463.3 160.0,463.2 160.5,463.2 161.0,463.1 161.5,463.1 162.0,463.0 162.5,462.9 163.0,462.9 163.5,462.8 164.0,462.7 164.5,462.7 165.0,462.6 165.5,462.5 166.0,462.4 166.5,462.3 167.0,462.2 167.5,462.1 168.0,462.0 168.5,461.9 169.0,461.8 169.5,461.7 170.0,461.6 170.5,461.5 171.0,461.4 171.5,461.3 172.0,461.1 172.5,461.0 173.0,460.8 173.5,460.7 174.0,460.5 174.5,460.3 175.0,460.1 175.5,459.9 176.0,459.7 176.5,459.5 177.0,459.2 177.5,459.0 178.0,458.6 178.5,458.2 179.0,457.8 179.5,457.4 180.0,456.9 180.5,456.4 181.0,455.8 181.5,455.2 182.0,454.5 182.5,453.6 183.0,452.6 183.5,451.5 184.0,450.3 184.5,448.9 185.0,447.4 185.5,445.8 186.0,443.9 186.5,441.4 187.0,438.3 187.5,434.8 188.0,431.1 188.5,427.3 189.0,423.5 189.5,419.7 190.0,415.5 190.5,411.4 191.0,407.6 191.5,403.9 192.0,400.5 192.5,397.6 193.0,395.3 193.5,393.2 194.0,391.6 194.5,390.7 195.0,390.1 195.5,389.6 196.0,389.3 196.5,389.2 197.0,389.5 197.5,390.3 198.0,391.2 198.5,392.3 199.0,393.5 199.5,395.2 200.0,397.2 200.5,399.5 201.0,402.5 201.5,406.2 202.0,409.8 202.5,412.8 203.0,415.6 203.5,418.2 204.0,420.8 204.5,423.2 205.0,425.5 205.5,427.9 206.0,430.2 206.5,432.4 207.0,434.5 207.5,436.3 208.0,437.9 208.5,439.2 209.0,440.3 209.5,441.3 210.0,442.2 210.5,443.1 211.0,443.8 211.5,444.4 212.0,445.0 212.5,445.5 213.0,446.0 213.5,446.5 214.0,446.8 214.5,447.1 215.0,447.3 215.5,447.4 216.0,447.5 216.5,447.6 217.0,447.7 217.5,447.8 218.0,447.8 218.5,447.8 219.0,447.8 219.5,447.7 220.0,447.7 220.5,447.6 221.0,447.5 221.5,447.4 222.0,447.2 222.5,447.0 223.0,446.7 223.5,446.3 224.0,445.8 224.5,445.3 225.0,444.8 225.5,444.2 226.0,443.5 226.5,442.7 227.0,441.9 227.5,440.9 228.0,439.9 228.5,438.7 229.0,437.3 229.5,435.6 230.0,433.7 230.5,431.5 231.0,429.2 231.5,426.9 232.0,424.6 232.5,422.2 233.0,419.8 233.5,417.2 234.0,414.5 234.5,411.6 235.0,408.4 235.5,404.7 236.0,401.2 236.5,398.6 237.0,396.4 237.5,394.5 238.0,393.0 238.5,391.9 239.0,390.8 239.5,389.9 240.0,389.4 240.5,389.2 241.0,389.4 241.5,389.8 242.0,390.3 242.5,391.0 243.0,392.1 243.5,394.0 244.0,396.2 244.5,398.7 245.0,401.8 245.5,405.4 246.0,409.1 246.5,413.0 247.0,417.2 247.5,421.3 248.0,425.0 248.5,428.8 249.0,432.6 249.5,436.3 250.0,439.6 250.5,442.5 251.0,444.7 251.5,446.5 252.0,448.1 252.5,449.5 253.0,450.8 253.5,452.0 254.0,453.0 254.5,454.0 255.0,454.8 255.5,455.4 256.0,456.0 256.5,456.6 257.0,457.1 257.5,457.6 258.0,458.0 258.5,458.4 259.0,458.8 259.5,459.1 260.0,459.4 260.5,459.6 261.0,459.8 261.5,460.0 262.0,460.2 262.5,460.4 263.0,460.6 263.5,460.7 264.0,460.9 264.5,461.0 265.0,461.2 265.5,461.3 266.0,461.4 266.5,461.6 267.0,461.7 267.5,461.8 268.0,461.9 268.5,462.0 269.0,462.1 269.5,462.2 270.0,462.3 270.5,462.4 271.0,462.4 271.5,462.5 272.0,462.6 272.5,462.7 273.0,462.8 273.5,462.8 274.0,462.9 274.5,463.0 275.0,463.0 275.5,463.1 276.0,463.1 276.5,463.2 277.0,463.2 277.5,463.3 278.0,463.3 278.5,463.4 279.0,463.4 279.5,463.4 280.0,463.5 280.5,463.5 281.0,463.5 281.5,463.6 282.0,463.6 282.5,463.6 283.0,463.6 283.5,463.7 284.0,463.7 284.5,463.7 285.0,463.7 285.5,463.7 286.0,463.8 286.5,463.8 287.0,463.8 287.5,463.8 288.0,463.8 288.5,463.9 289.0,463.9 289.5,463.9 290.0,463.9 290.5,464.0 291.0,464.0 291.5,464.0 292.0,464.0 292.5,464.0 293.0,464.0 293.5,464.1 294.0,464.1 294.5,464.1 295.0,464.1 295.5,464.1 296.0,464.2 296.5,464.2 297.0,464.2 297.5,464.2 298.0,464.2 298.5,464.2 299.0,464.3 299.5,464.3 300.0,464.3 300.5,464.3 301.0,464.3 301.5,464.3 302.0,464.3 302.5,464.3 303.0,464.4 303.5,464.4 304.0,464.4 304.5,464.4 305.0,464.4 305.5,464.4 306.0,464.4 306.5,464.4 307.0,464.4 307.5,464.4 308.0,464.4 308.5,464.4 309.0,464.4 309.5,464.4 310.0,464.4 310.5,464.4 311.0,464.4 311.5,464.4 312.0,464.4 312.5,464.4 313.0,464.4 313.5,464.4 314.0,464.4 314.5,464.4 315.0,464.4 315.5,464.4 316.0,464.4 316.5,464.4 317.0,464.4 317.5,464.5 318.0,464.5 318.5,464.5 319.0,464.5 319.5,464.5 320.0,464.5 320.5,464.5 321.0,464.5 321.5,464.5 322.0,464.5 322.5,464.5 323.0,464.5 323.5,464.5 324.0,464.5 324.5,464.5 325.0,464.5 325.5,464.5 326.0,464.5 326.5,464.5 327.0,464.5 327.5,464.5 328.0,464.5 328.5,464.5 329.0,464.5 329.5,464.5 330.0,464.5 330.5,464.5 331.0,464.5 331.5,464.5 332.0,464.5 332.5,464.5 333.0,464.5 333.5,464.5 334.0,464.5 334.5,464.5 335.0,464.5 335.5,464.5 336.0,464.5 336.5,464.5 337.0,464.5 337.5,464.5 338.0,464.5 338.5,464.5 339.0,464.5 339.5,464.5 340.0,464.5 340.5,464.5 341.0,464.5 341.5,464.5 342.0,464.5 342.5,464.5 343.0,464.5 343.5,464.5 344.0,464.5 344.5,464.5 345.0,464.5 345.5,464.5 346.0,464.5 346.5,464.5 347.0,464.6 347.5,464.6 348.0,464.6 348.5,464.6 349.0,464.6 349.5,464.6 350.0,464.6 350.5,464.6 351.0,464.6 351.5,464.6 352.0,464.6 352.5,464.6 353.0,464.6 353.5,464.6 354.0,464.6 354.5,464.6 355.0,464.6 355.5,464.6 356.0,464.6 356.5,464.6 357.0,464.6 357.5,464.6 358.0,464.6 358.5,464.6 359.0,464.6 359.5,464.6 360.0,464.6 360.5,464.6 361.0,464.6 361.5,464.6 362.0,464.6 362.5,464.6 363.0,464.6 363.5,464.6 364.0,464.6 364.5,464.6 365.0,464.6 365.5,464.6 366.0,464.6 366.5,464.6 367.0,464.6 367.5,464.6 368.0,464.6 368.5,464.6 369.0,464.6 369.5,464.6 370.0,464.6 370.5,464.6 371.0,464.6 371.5,464.6 372.0,464.6 372.5,464.6 373.0,464.6 373.5,464.6 374.0,464.6 374.5,464.6 375.0,464.6 375.5,464.6 376.0,464.6 376.5,464.6 377.0,464.6 377.5,464.6 378.0,464.6 378.5,464.6 379.0,464.6 379.5,464.6 380.0,464.6 380.5,464.6 381.0,464.6 381.5,464.6 382.0,464.6 382.5,464.6 383.0,464.6 383.5,464.6 384.0,464.6 384.5,464.6 385.0,464.6 385.5,464.6 386.0,464.6 386.5,464.6 387.0,464.6 387.5,464.6 388.0,464.6 388.5,464.6 389.0,464.6 389.5,464.6 390.0,464.6 390.5,464.6 391.0,464.6 391.5,464.6" fill="none" stroke="#ff0000" stroke-width="2" stroke-linejoin="round" clip-path="url(#cc)"/>
<polyline points="45.0,464.6 45.5,464.6 46.0,464.6 46.5,464.6 47.0,464.6 47.5,464.6 48.0,464.6 48.5,464.6 49.0,464.6 49.5,464.6 50.0,464.6 50.5,464.6 51.0,464.6 51.5,464.6 52.0,464.6 52.5,464.6 53.0,464.6 53.5,464.6 54.0,464.6 54.5,464.6 55.0,464.6 55.5,464.6 56.0,464.6 56.5,464.6 57.0,464.6 57.5,464.6 58.0,464.6 58.5,464.6 59.0,464.6 59.5,464.6 60.0,464.6 60.5,464.6 61.0,464.6 61.5,464.6 62.0,464.6 62.5,464.6 63.0,464.6 63.5,464.6 64.0,464.6 64.5,464.6 65.0,464.6 65.5,464.6 66.0,464.6 66.5,464.6 67.0,464.6 67.5,464.6 68.0,464.6 68.5,464.6 69.0,464.6 69.5,464.6 70.0,464.6 70.5,464.6 71.0,464.6 71.5,464.6 72.0,464.6 72.5,464.6 73.0,464.6 73.5,464.5 74.0,464.5 74.5,464.5 75.0,464.5 75.5,464.5 76.0,464.5 76.5,464.5 77.0,464.5 77.5,464.5 78.0,464.5 78.5,464.5 79.0,464.5 79.5,464.5 80.0,464.5 80.5,464.5 81.0,464.5 81.5,464.5 82.0,464.5 82.5,464.5 83.0,464.5 83.5,464.5 84.0,464.5 84.5,464.5 85.0,464.5 85.5,464.5 86.0,464.5 86.5,464.5 87.0,464.5 87.5,464.5 88.0,464.5 88.5,464.5 89.0,464.5 89.5,464.5 90.0,464.5 90.5,464.5 91.0,464.5 91.5,464.5 92.0,464.4 92.5,464.4 93.0,464.4 93.5,464.4 94.0,464.4 94.5,464.4 95.0,464.4 95.5,464.4 96.0,464.4 96.5,464.4 97.0,464.4 97.5,464.4 98.0,464.4 98.5,464.4 99.0,464.4 99.5,464.4 100.0,464.4 100.5,464.4 101.0,464.4 101.5,464.4 102.0,464.4 102.5,464.4 103.0,464.4 103.5,464.4 104.0,464.4 104.5,464.3 105.0,464.3 105.5,464.3 106.0,464.3 106.5,464.3 107.0,464.3 107.5,464.3 108.0,464.3 108.5,464.3 109.0,464.3 109.5,464.3 110.0,464.3 110.5,464.3 111.0,464.3 111.5,464.3 112.0,464.3 112.5,464.3 113.0,464.3 113.5,464.3 114.0,464.2 114.5,464.2 115.0,464.2 115.5,464.2 116.0,464.2 116.5,464.2 117.0,464.2 117.5,464.2 118.0,464.2 118.5,464.2 119.0,464.2 119.5,464.2 120.0,464.2 120.5,464.2 121.0,464.2 121.5,464.2 122.0,464.1 122.5,464.1 123.0,464.1 123.5,464.1 124.0,464.1 124.5,464.1 125.0,464.1 125.5,464.1 126.0,464.1 126.5,464.1 127.0,464.1 127.5,464.1 128.0,464.1 128.5,464.1 129.0,464.0 129.5,464.0 130.0,464.0 130.5,464.0 131.0,464.0 131.5,464.0 132.0,464.0 132.5,464.0 133.0,464.0 133.5,464.0 134.0,463.9 134.5,463.9 135.0,463.9 135.5,463.9 136.0,463.8 136.5,463.8 137.0,463.8 137.5,463.7 138.0,463.7 138.5,463.6 139.0,463.6 139.5,463.5 140.0,463.5 140.5,463.4 141.0,463.4 141.5,463.3 142.0,463.3 142.5,463.2 143.0,463.2 143.5,463.1 144.0,463.1 144.5,463.0 145.0,463.0 145.5,462.9 146.0,462.8 146.5,462.8 147.0,462.7 147.5,462.7 148.0,462.6 148.5,462.6 149.0,462.5 149.5,462.4 150.0,462.4 150.5,462.3 151.0,462.3 151.5,462.2 152.0,462.1 152.5,462.1 153.0,462.0 153.5,461.9 154.0,461.9 154.5,461.8 155.0,461.7 155.5,461.6 156.0,461.5 156.5,461.5 157.0,461.4 157.5,461.3 158.0,461.2 158.5,461.1 159.0,461.0 159.5,460.8 160.0,460.7 160.5,460.6 161.0,460.4 161.5,460.3 162.0,460.1 162.5,459.9 163.0,459.7 163.5,459.5 164.0,459.3 164.5,459.1 165.0,458.9 165.5,458.6 166.0,458.4 166.5,458.1 167.0,457.9 167.5,457.6 168.0,457.3 168.5,457.0 169.0,456.7 169.5,456.3 170.0,455.9 170.5,455.5 171.0,455.1 171.5,454.7 172.0,454.2 172.5,453.7 173.0,453.2 173.5,452.6 174.0,451.9 174.5,451.1 175.0,450.4 175.5,449.5 176.0,448.6 176.5,447.7 177.0,446.7 177.5,445.7 178.0,444.7 178.5,443.7 179.0,442.6 179.5,441.6 180.0,440.5 180.5,439.3 181.0,437.9 181.5,436.5 182.0,435.0 182.5,433.7 183.0,432.5 183.5,431.6 184.0,430.9 184.5,430.1 185.0,429.4 185.5,428.8 186.0,428.1 186.5,427.6 187.0,427.1 187.5,426.7 188.0,426.5 188.5,426.3 189.0,426.3 189.5,426.4 190.0,426.6 190.5,426.8 191.0,427.1 191.5,427.4 192.0,427.8 192.5,428.2 193.0,428.9 193.5,429.9 194.0,431.1 194.5,432.3 195.0,433.5 195.5,434.6 196.0,435.3 196.5,436.0 197.0,436.6 197.5,437.2 198.0,437.6 198.5,437.8 199.0,437.7 199.5,437.4 200.0,436.9 200.5,436.3 201.0,435.5 201.5,434.6 202.0,432.9 202.5,430.7 203.0,428.1 203.5,424.3 204.0,419.2 204.5,413.6 205.0,408.3 205.5,402.8 206.0,397.3 206.5,392.7 207.0,389.0 207.5,385.8 208.0,382.9 208.5,380.0 209.0,377.2 209.5,374.2 210.0,371.4 210.5,368.7 211.0,365.8 211.5,362.7 212.0,359.3 212.5,355.0 213.0,350.3 213.5,346.2 214.0,342.0 214.5,338.2 215.0,335.5 215.5,333.5 216.0,331.7 216.5,330.0 217.0,328.7 217.5,327.6 218.0,327.0 218.5,326.8 219.0,327.2 219.5,328.0 220.0,329.2 220.5,330.7 221.0,332.4 221.5,334.3 222.0,336.4 222.5,339.7 223.0,343.7 223.5,347.8 224.0,352.2 224.5,356.8 225.0,360.7 225.5,364.0 226.0,367.0 226.5,369.8 227.0,372.5 227.5,375.4 228.0,378.3 228.5,381.2 229.0,384.0 229.5,387.0 230.0,390.4 230.5,394.4 231.0,399.4 231.5,405.0 232.0,410.4 232.5,415.8 233.0,421.3 233.5,426.0 234.0,429.2 234.5,431.7 235.0,433.7 235.5,435.0 236.0,435.8 236.5,436.6 237.0,437.1 237.5,437.6 238.0,437.8 238.5,437.7 239.0,437.5 239.5,437.0 240.0,436.4 240.5,435.7 241.0,435.1 241.5,434.2 242.0,433.1 242.5,431.8 243.0,430.6 243.5,429.4 244.0,428.6 244.5,428.0 245.0,427.6 245.5,427.3 246.0,427.0 246.5,426.7 247.0,426.5 247.5,426.3 248.0,426.3 248.5,426.4 249.0,426.6 249.5,426.9 250.0,427.3 250.5,427.8 251.0,428.4 251.5,429.0 252.0,429.7 252.5,430.4 253.0,431.2 253.5,431.9 254.0,432.9 254.5,434.2 255.0,435.6 255.5,437.1 256.0,438.5 256.5,439.8 257.0,440.9 257.5,442.0 258.0,443.1 258.5,444.1 259.0,445.1 259.5,446.1 260.0,447.1 260.5,448.1 261.0,449.0 261.5,449.9 262.0,450.7 262.5,451.4 263.0,452.2 263.5,452.8 264.0,453.4 264.5,453.9 265.0,454.4 265.5,454.8 266.0,455.3 266.5,455.7 267.0,456.1 267.5,456.5 268.0,456.8 268.5,457.1 269.0,457.4 269.5,457.7 270.0,458.0 270.5,458.3 271.0,458.5 271.5,458.7 272.0,459.0 272.5,459.2 273.0,459.4 273.5,459.6 274.0,459.8 274.5,460.0 275.0,460.2 275.5,460.3 276.0,460.5 276.5,460.6 277.0,460.8 277.5,460.9 278.0,461.0 278.5,461.1 279.0,461.2 279.5,461.3 280.0,461.4 280.5,461.5 281.0,461.6 281.5,461.7 282.0,461.7 282.5,461.8 283.0,461.9 283.5,462.0 284.0,462.0 284.5,462.1 285.0,462.2 285.5,462.2 286.0,462.3 286.5,462.3 287.0,462.4 287.5,462.5 288.0,462.5 288.5,462.6 289.0,462.6 289.5,462.7 290.0,462.7 290.5,462.8 291.0,462.9 291.5,462.9 292.0,463.0 292.5,463.0 293.0,463.1 293.5,463.1 294.0,463.2 294.5,463.3 295.0,463.3 295.5,463.4 296.0,463.4 296.5,463.5 297.0,463.5 297.5,463.6 298.0,463.6 298.5,463.7 299.0,463.7 299.5,463.7 300.0,463.8 300.5,463.8 301.0,463.8 301.5,463.9 302.0,463.9 302.5,463.9 303.0,463.9 303.5,464.0 304.0,464.0 304.5,464.0 305.0,464.0 305.5,464.0 306.0,464.0 306.5,464.0 307.0,464.0 307.5,464.0 308.0,464.0 308.5,464.1 309.0,464.1 309.5,464.1 310.0,464.1 310.5,464.1 311.0,464.1 311.5,464.1 312.0,464.1 312.5,464.1 313.0,464.1 313.5,464.1 314.0,464.1 314.5,464.1 315.0,464.1 315.5,464.2 316.0,464.2 316.5,464.2 317.0,464.2 317.5,464.2 318.0,464.2 318.5,464.2 319.0,464.2 319.5,464.2 320.0,464.2 320.5,464.2 321.0,464.2 321.5,464.2 322.0,464.2 322.5,464.2 323.0,464.2 323.5,464.3 324.0,464.3 324.5,464.3 325.0,464.3 325.5,464.3 326.0,464.3 326.5,464.3 327.0,464.3 327.5,464.3 328.0,464.3 328.5,464.3 329.0,464.3 329.5,464.3 330.0,464.3 330.5,464.3 331.0,464.3 331.5,464.3 332.0,464.3 332.5,464.3 333.0,464.4 333.5,464.4 334.0,464.4 334.5,464.4 335.0,464.4 335.5,464.4 336.0,464.4 336.5,464.4 337.0,464.4 337.5,464.4 338.0,464.4 338.5,464.4 339.0,464.4 339.5,464.4 340.0,464.4 340.5,464.4 341.0,464.4 341.5,464.4 342.0,464.4 342.5,464.4 343.0,464.4 343.5,464.4 344.0,464.4 344.5,464.4 345.0,464.5 345.5,464.5 346.0,464.5 346.5,464.5 347.0,464.5 347.5,464.5 348.0,464.5 348.5,464.5 349.0,464.5 349.5,464.5 350.0,464.5 350.5,464.5 351.0,464.5 351.5,464.5 352.0,464.5 352.5,464.5 353.0,464.5 353.5,464.5 354.0,464.5 354.5,464.5 355.0,464.5 355.5,464.5 356.0,464.5 356.5,464.5 357.0,464.5 357.5,464.5 358.0,464.5 358.5,464.5 359.0,464.5 359.5,464.5 360.0,464.5 360.5,464.5 361.0,464.5 361.5,464.5 362.0,464.5 362.5,464.5 363.0,464.5 363.5,464.5 364.0,464.6 364.5,464.6 365.0,464.6 365.5,464.6 366.0,464.6 366.5,464.6 367.0,464.6 367.5,464.6 368.0,464.6 368.5,464.6 369.0,464.6 369.5,464.6 370.0,464.6 370.5,464.6 371.0,464.6 371.5,464.6 372.0,464.6 372.5,464.6 373.0,464.6 373.5,464.6 374.0,464.6 374.5,464.6 375.0,464.6 375.5,464.6 376.0,464.6 376.5,464.6 377.0,464.6 377.5,464.6 378.0,464.6 378.5,464.6 379.0,464.6 379.5,464.6 380.0,464.6 380.5,464.6 381.0,464.6 381.5,464.6 382.0,464.6 382.5,464.6 383.0,464.6 383.5,464.6 384.0,464.6 384.5,464.6 385.0,464.6 385.5,464.6 386.0,464.6 386.5,464.6 387.0,464.6 387.5,464.6 388.0,464.6 388.5,464.6 389.0,464.6 389.5,464.6 390.0,464.6 390.5,464.6 391.0,464.6 391.5,464.6" fill="none" stroke="#00fa00" stroke-width="2" stroke-linejoin="round" clip-path="url(#cc)"/>
<polyline points="45.0,464.6 45.5,464.6 46.0,464.6 46.5,464.6 47.0,464.6 47.5,464.6 48.0,464.6 48.5,464.6 49.0,464.6 49.5,464.6 50.0,464.6 50.5,464.6 51.0,464.6 51.5,464.6 52.0,464.6 52.5,464.6 53.0,464.6 53.5,464.6 54.0,464.6 54.5,464.6 55.0,464.6 55.5,464.6 56.0,464.6 56.5,464.6 57.0,464.6 57.5,464.6 58.0,464.6 58.5,464.6 59.0,464.6 59.5,464.6 60.0,464.6 60.5,464.6 61.0,464.6 61.5,464.6 62.0,464.6 62.5,464.6 63.0,464.6 63.5,464.6 64.0,464.6 64.5,464.6 65.0,464.6 65.5,464.6 66.0,464.6 66.5,464.6 67.0,464.6 67.5,464.6 68.0,464.6 68.5,464.6 69.0,464.6 69.5,464.6 70.0,464.6 70.5,464.6 71.0,464.6 71.5,464.6 72.0,464.6 72.5,464.6 73.0,464.6 73.5,464.5 74.0,464.5 74.5,464.5 75.0,464.5 75.5,464.5 76.0,464.5 76.5,464.5 77.0,464.5 77.5,464.5 78.0,464.5 78.5,464.5 79.0,464.5 79.5,464.5 80.0,464.5 80.5,464.5 81.0,464.5 81.5,464.5 82.0,464.5 82.5,464.5 83.0,464.5 83.5,464.5 84.0,464.5 84.5,464.5 85.0,464.5 85.5,464.5 86.0,464.5 86.5,464.5 87.0,464.5 87.5,464.5 88.0,464.5 88.5,464.5 89.0,464.5 89.5,464.5 90.0,464.5 90.5,464.5 91.0,464.5 91.5,464.5 92.0,464.4 92.5,464.4 93.0,464.4 93.5,464.4 94.0,464.4 94.5,464.4 95.0,464.4 95.5,464.4 96.0,464.4 96.5,464.4 97.0,464.4 97.5,464.4 98.0,464.4 98.5,464.4 99.0,464.4 99.5,464.4 100.0,464.4 100.5,464.4 101.0,464.4 101.5,464.4 102.0,464.4 102.5,464.4 103.0,464.4 103.5,464.4 104.0,464.4 104.5,464.3 105.0,464.3 105.5,464.3 106.0,464.3 106.5,464.3 107.0,464.3 107.5,464.3 108.0,464.3 108.5,464.3 109.0,464.3 109.5,464.3 110.0,464.3 110.5,464.3 111.0,464.3 111.5,464.3 112.0,464.3 112.5,464.3 113.0,464.3 113.5,464.3 114.0,464.2 114.5,464.2 115.0,464.2 115.5,464.2 116.0,464.2 116.5,464.2 117.0,464.2 117.5,464.2 118.0,464.2 118.5,464.2 119.0,464.2 119.5,464.2 120.0,464.2 120.5,464.2 121.0,464.2 121.5,464.2 122.0,464.1 122.5,464.1 123.0,464.1 123.5,464.1 124.0,464.1 124.5,464.1 125.0,464.1 125.5,464.1 126.0,464.1 126.5,464.1 127.0,464.1 127.5,464.1 128.0,464.1 128.5,464.1 129.0,464.0 129.5,464.0 130.0,464.0 130.5,464.0 131.0,464.0 131.5,464.0 132.0,464.0 132.5,464.0 133.0,464.0 133.5,464.0 134.0,463.9 134.5,463.9 135.0,463.9 135.5,463.9 136.0,463.8 136.5,463.8 137.0,463.8 137.5,463.7 138.0,463.7 138.5,463.6 139.0,463.6 139.5,463.5 140.0,463.5 140.5,463.4 141.0,463.4 141.5,463.3 142.0,463.3 142.5,463.2 143.0,463.2 143.5,463.1 144.0,463.1 144.5,463.0 145.0,463.0 145.5,462.9 146.0,462.8 146.5,462.8 147.0,462.7 147.5,462.7 148.0,462.6 148.5,462.6 149.0,462.5 149.5,462.4 150.0,462.4 150.5,462.3 151.0,462.3 151.5,462.2 152.0,462.1 152.5,462.1 153.0,462.0 153.5,461.9 154.0,461.9 154.5,461.8 155.0,461.7 155.5,461.6 156.0,461.5 156.5,461.5 157.0,461.4 157.5,461.3 158.0,461.2 158.5,461.1 159.0,461.0 159.5,460.8 160.0,460.7 160.5,460.6 161.0,460.4 161.5,460.2 162.0,460.1 162.5,459.9 163.0,459.7 163.5,459.5 164.0,459.3 164.5,459.1 165.0,458.9 165.5,458.6 166.0,458.4 166.5,458.2 167.0,457.9 167.5,457.6 168.0,457.3 168.5,457.0 169.0,456.7 169.5,456.3 170.0,456.0 170.5,455.6 171.0,455.2 171.5,454.8 172.0,454.3 172.5,453.9 173.0,453.4 173.5,452.8 174.0,452.2 174.5,451.5 175.0,450.7 175.5,450.0 176.0,449.2 176.5,448.3 177.0,447.5 177.5,446.8 178.0,446.0 178.5,445.3 179.0,444.6 179.5,444.0 180.0,443.5 180.5,443.0 181.0,442.6 181.5,442.2 182.0,441.8 182.5,441.4 183.0,441.1 183.5,440.7 184.0,440.4 184.5,440.1 185.0,439.8 185.5,439.5 186.0,439.2 186.5,439.0 187.0,438.8 187.5,438.6 188.0,438.4 188.5,438.2 189.0,438.0 189.5,437.7 190.0,437.4 190.5,437.1 191.0,436.7 191.5,436.2 192.0,435.6 192.5,434.9 193.0,434.0 193.5,433.1 194.0,432.1 194.5,430.8 195.0,429.0 195.5,426.8 196.0,424.1 196.5,421.1 197.0,417.7 197.5,413.1 198.0,407.7 198.5,402.5 199.0,397.8 199.5,393.2 200.0,388.8 200.5,384.9 201.0,381.6 201.5,378.5 202.0,375.0 202.5,370.8 203.0,366.2 203.5,361.1 204.0,355.4 204.5,349.0 205.0,342.5 205.5,335.5 206.0,328.5 206.5,322.9 207.0,317.9 207.5,313.7 208.0,311.0 208.5,309.4 209.0,308.0 209.5,306.8 210.0,305.8 210.5,305.0 211.0,304.6 211.5,304.4 212.0,304.5 212.5,304.6 213.0,304.9 213.5,305.2 214.0,305.6 214.5,306.0 215.0,306.4 215.5,306.9 216.0,307.3 216.5,307.7 217.0,308.0 217.5,308.2 218.0,308.4 218.5,308.4 219.0,308.3 219.5,308.1 220.0,307.9 220.5,307.5 221.0,307.1 221.5,306.7 222.0,306.3 222.5,305.8 223.0,305.4 223.5,305.1 224.0,304.8 224.5,304.5 225.0,304.4 225.5,304.4 226.0,304.7 226.5,305.3 227.0,306.2 227.5,307.2 228.0,308.5 228.5,310.0 229.0,311.8 229.5,315.2 230.0,319.8 230.5,325.0 231.0,331.2 231.5,338.4 232.0,345.1 232.5,351.6 233.0,357.8 233.5,363.2 234.0,368.1 234.5,372.6 235.0,376.5 235.5,379.7 236.0,382.8 236.5,386.4 237.0,390.5 237.5,395.0 238.0,399.6 238.5,404.5 239.0,409.9 239.5,415.1 240.0,419.2 240.5,422.4 241.0,425.2 241.5,427.7 242.0,429.8 242.5,431.4 243.0,432.5 243.5,433.5 244.0,434.4 244.5,435.2 245.0,435.8 245.5,436.4 246.0,436.8 246.5,437.2 247.0,437.5 247.5,437.8 248.0,438.1 248.5,438.3 249.0,438.5 249.5,438.7 250.0,438.9 250.5,439.1 251.0,439.3 251.5,439.6 252.0,439.9 252.5,440.2 253.0,440.5 253.5,440.9 254.0,441.2 254.5,441.6 255.0,442.0 255.5,442.4 256.0,442.8 256.5,443.2 257.0,443.7 257.5,444.2 258.0,444.9 258.5,445.6 259.0,446.3 259.5,447.1 260.0,447.9 260.5,448.7 261.0,449.5 261.5,450.3 262.0,451.0 262.5,451.8 263.0,452.4 263.5,453.1 264.0,453.6 264.5,454.1 265.0,454.5 265.5,454.9 266.0,455.4 266.5,455.7 267.0,456.1 267.5,456.5 268.0,456.8 268.5,457.1 269.0,457.4 269.5,457.7 270.0,458.0 270.5,458.3 271.0,458.5 271.5,458.7 272.0,459.0 272.5,459.2 273.0,459.4 273.5,459.6 274.0,459.8 274.5,460.0 275.0,460.1 275.5,460.3 276.0,460.5 276.5,460.6 277.0,460.8 277.5,460.9 278.0,461.0 278.5,461.1 279.0,461.2 279.5,461.3 280.0,461.4 280.5,461.5 281.0,461.6 281.5,461.7 282.0,461.7 282.5,461.8 283.0,461.9 283.5,462.0 284.0,462.0 284.5,462.1 285.0,462.2 285.5,462.2 286.0,462.3 286.5,462.3 287.0,462.4 287.5,462.5 288.0,462.5 288.5,462.6 289.0,462.6 289.5,462.7 290.0,462.7 290.5,462.8 291.0,462.9 291.5,462.9 292.0,463.0 292.5,463.0 293.0,463.1 293.5,463.1 294.0,463.2 294.5,463.3 295.0,463.3 295.5,463.4 296.0,463.4 296.5,463.5 297.0,463.5 297.5,463.6 298.0,463.6 298.5,463.7 299.0,463.7 299.5,463.7 300.0,463.8 300.5,463.8 301.0,463.8 301.5,463.9 302.0,463.9 302.5,463.9 303.0,463.9 303.5,464.0 304.0,464.0 304.5,464.0 305.0,464.0 305.5,464.0 306.0,464.0 306.5,464.0 307.0,464.0 307.5,464.0 308.0,464.0 308.5,464.1 309.0,464.1 309.5,464.1 310.0,464.1 310.5,464.1 311.0,464.1 311.5,464.1 312.0,464.1 312.5,464.1 313.0,464.1 313.5,464.1 314.0,464.1 314.5,464.1 315.0,464.1 315.5,464.2 316.0,464.2 316.5,464.2 317.0,464.2 317.5,464.2 318.0,464.2 318.5,464.2 319.0,464.2 319.5,464.2 320.0,464.2 320.5,464.2 321.0,464.2 321.5,464.2 322.0,464.2 322.5,464.2 323.0,464.2 323.5,464.3 324.0,464.3 324.5,464.3 325.0,464.3 325.5,464.3 326.0,464.3 326.5,464.3 327.0,464.3 327.5,464.3 328.0,464.3 328.5,464.3 329.0,464.3 329.5,464.3 330.0,464.3 330.5,464.3 331.0,464.3 331.5,464.3 332.0,464.3 332.5,464.3 333.0,464.4 333.5,464.4 334.0,464.4 334.5,464.4 335.0,464.4 335.5,464.4 336.0,464.4 336.5,464.4 337.0,464.4 337.5,464.4 338.0,464.4 338.5,464.4 339.0,464.4 339.5,464.4 340.0,464.4 340.5,464.4 341.0,464.4 341.5,464.4 342.0,464.4 342.5,464.4 343.0,464.4 343.5,464.4 344.0,464.4 344.5,464.4 345.0,464.5 345.5,464.5 346.0,464.5 346.5,464.5 347.0,464.5 347.5,464.5 348.0,464.5 348.5,464.5 349.0,464.5 349.5,464.5 350.0,464.5 350.5,464.5 351.0,464.5 351.5,464.5 352.0,464.5 352.5,464.5 353.0,464.5 353.5,464.5 354.0,464.5 354.5,464.5 355.0,464.5 355.5,464.5 356.0,464.5 356.5,464.5 357.0,464.5 357.5,464.5 358.0,464.5 358.5,464.5 359.0,464.5 359.5,464.5 360.0,464.5 360.5,464.5 361.0,464.5 361.5,464.5 362.0,464.5 362.5,464.5 363.0,464.5 363.5,464.5 364.0,464.6 364.5,464.6 365.0,464.6 365.5,464.6 366.0,464.6 366.5,464.6 367.0,464.6 367.5,464.6 368.0,464.6 368.5,464.6 369.0,464.6 369.5,464.6 370.0,464.6 370.5,464.6 371.0,464.6 371.5,464.6 372.0,464.6 372.5,464.6 373.0,464.6 373.5,464.6 374.0,464.6 374.5,464.6 375.0,464.6 375.5,464.6 376.0,464.6 376.5,464.6 377.0,464.6 377.5,464.6 378.0,464.6 378.5,464.6 379.0,464.6 379.5,464.6 380.0,464.6 380.5,464.6 381.0,464.6 381.5,464.6 382.0,464.6 382.5,464.6 383.0,464.6 383.5,464.6 384.0,464.6 384.5,464.6 385.0,464.6 385.5,464.6 386.0,464.6 386.5,464.6 387.0,464.6 387.5,464.6 388.0,464.6 388.5,464.6 389.0,464.6 389.5,464.6 390.0,464.6 390.5,464.6 391.0,464.6 391.5,464.6" fill="none" stroke="#0000ff" stroke-width="2" stroke-linejoin="round" clip-path="url(#cc)"/>
<polyline points="45.0,464.6 45.5,464.6 46.0,464.6 46.5,464.6 47.0,464.6 47.5,464.6 48.0,464.6 48.5,464.6 49.0,464.6 49.5,464.6 50.0,464.6 50.5,464.6 51.0,464.6 51.5,464.6 52.0,464.6 52.5,464.6 53.0,464.6 53.5,464.6 54.0,464.6 54.5,464.6 55.0,464.6 55.5,464.6 56.0,464.6 56.5,464.6 57.0,464.6 57.5,464.6 58.0,464.6 58.5,464.6 59.0,464.6 59.5,464.6 60.0,464.6 60.5,464.6 61.0,464.6 61.5,464.6 62.0,464.6 62.5,464.6 63.0,464.6 63.5,464.6 64.0,464.6 64.5,464.6 65.0,464.6 65.5,464.6 66.0,464.6 66.5,464.6 67.0,464.6 67.5,464.6 68.0,464.6 68.5,464.6 69.0,464.6 69.5,464.6 70.0,464.6 70.5,464.5 71.0,464.5 71.5,464.5 72.0,464.5 72.5,464.5 73.0,464.5 73.5,464.5 74.0,464.5 74.5,464.5 75.0,464.5 75.5,464.5 76.0,464.5 76.5,464.5 77.0,464.5 77.5,464.5 78.0,464.5 78.5,464.5 79.0,464.5 79.5,464.5 80.0,464.5 80.5,464.5 81.0,464.5 81.5,464.5 82.0,464.5 82.5,464.5 83.0,464.5 83.5,464.5 84.0,464.5 84.5,464.5 85.0,464.5 85.5,464.5 86.0,464.5 86.5,464.5 87.0,464.5 87.5,464.5 88.0,464.5 88.5,464.5 89.0,464.5 89.5,464.5 90.0,464.5 90.5,464.5 91.0,464.5 91.5,464.4 92.0,464.4 92.5,464.4 93.0,464.4 93.5,464.4 94.0,464.4 94.5,464.4 95.0,464.4 95.5,464.4 96.0,464.4 96.5,464.4 97.0,464.4 97.5,464.4 98.0,464.4 98.5,464.4 99.0,464.4 99.5,464.4 100.0,464.4 100.5,464.4 101.0,464.4 101.5,464.4 102.0,464.4 102.5,464.4 103.0,464.4 103.5,464.4 104.0,464.4 104.5,464.4 105.0,464.4 105.5,464.4 106.0,464.4 106.5,464.4 107.0,464.4 107.5,464.4 108.0,464.3 108.5,464.3 109.0,464.3 109.5,464.3 110.0,464.3 110.5,464.3 111.0,464.3 111.5,464.3 112.0,464.3 112.5,464.3 113.0,464.3 113.5,464.3 114.0,464.3 114.5,464.3 115.0,464.3 115.5,464.3 116.0,464.3 116.5,464.3 117.0,464.3 117.5,464.3 118.0,464.2 118.5,464.2 119.0,464.2 119.5,464.2 120.0,464.2 120.5,464.2 121.0,464.2 121.5,464.2 122.0,464.2 122.5,464.2 123.0,464.2 123.5,464.2 124.0,464.2 124.5,464.2 125.0,464.1 125.5,464.1 126.0,464.1 126.5,464.1 127.0,464.1 127.5,464.1 128.0,464.1 128.5,464.1 129.0,464.1 129.5,464.1 130.0,464.0 130.5,464.0 131.0,464.0 131.5,464.0 132.0,464.0 132.5,464.0 133.0,464.0 133.5,464.0 134.0,463.9 134.5,463.9 135.0,463.9 135.5,463.8 136.0,463.8 136.5,463.8 137.0,463.7 137.5,463.7 138.0,463.7 138.5,463.6 139.0,463.6 139.5,463.5 140.0,463.5 140.5,463.4 141.0,463.4 141.5,463.3 142.0,463.3 142.5,463.2 143.0,463.2 143.5,463.1 144.0,463.1 144.5,463.0 145.0,463.0 145.5,462.9 146.0,462.8 146.5,462.8 147.0,462.7 147.5,462.7 148.0,462.6 148.5,462.6 149.0,462.5 149.5,462.4 150.0,462.4 150.5,462.3 151.0,462.3 151.5,462.2 152.0,462.1 152.5,462.1 153.0,462.0 153.5,461.9 154.0,461.9 154.5,461.8 155.0,461.7 155.5,461.6 156.0,461.5 156.5,461.5 157.0,461.4 157.5,461.3 158.0,461.2 158.5,461.1 159.0,461.0 159.5,460.8 160.0,460.7 160.5,460.6 161.0,460.4 161.5,460.2 162.0,460.1 162.5,459.9 163.0,459.7 163.5,459.5 164.0,459.3 164.5,459.1 165.0,458.9 165.5,458.6 166.0,458.4 166.5,458.2 167.0,457.9 167.5,457.6 168.0,457.3 168.5,457.0 169.0,456.7 169.5,456.4 170.0,456.0 170.5,455.7 171.0,455.3 171.5,454.9 172.0,454.5 172.5,454.1 173.0,453.6 173.5,453.2 174.0,452.6 174.5,452.1 175.0,451.5 175.5,450.8 176.0,450.2 176.5,449.6 177.0,448.9 177.5,448.3 178.0,447.7 178.5,447.1 179.0,446.5 179.5,446.0 180.0,445.5 180.5,445.1 181.0,444.7 181.5,444.3 182.0,444.0 182.5,443.6 183.0,443.3 183.5,442.9 184.0,442.5 184.5,442.1 185.0,441.7 185.5,441.2 186.0,440.7 186.5,440.1 187.0,439.6 187.5,438.9 188.0,438.2 188.5,437.5 189.0,436.6 189.5,435.6 190.0,434.5 190.5,433.0 191.0,431.2 191.5,429.0 192.0,426.7 192.5,424.0 193.0,420.6 193.5,416.5 194.0,412.0 194.5,407.5 195.0,403.3 195.5,399.5 196.0,395.8 196.5,392.1 197.0,388.6 197.5,385.2 198.0,381.9 198.5,378.8 199.0,375.5 199.5,371.8 200.0,367.8 200.5,363.8 201.0,360.0 201.5,356.4 202.0,352.8 202.5,349.5 203.0,346.7 203.5,344.1 204.0,341.9 204.5,340.5 205.0,339.4 205.5,338.5 206.0,338.3 206.5,338.6 207.0,339.2 207.5,340.0 208.0,341.3 208.5,343.0 209.0,344.8 209.5,346.4 210.0,347.9 210.5,349.5 211.0,351.0 211.5,352.5 212.0,353.9 212.5,355.3 213.0,356.6 213.5,358.0 214.0,359.2 214.5,360.4 215.0,361.4 215.5,362.4 216.0,363.2 216.5,364.0 217.0,364.5 217.5,364.9 218.0,365.2 218.5,365.3 219.0,365.1 219.5,364.7 220.0,364.3 220.5,363.7 221.0,362.9 221.5,362.0 222.0,361.0 222.5,359.9 223.0,358.7 223.5,357.4 224.0,356.1 224.5,354.7 225.0,353.4 225.5,351.9 226.0,350.4 226.5,348.9 227.0,347.3 227.5,345.7 228.0,344.1 228.5,342.3 229.0,340.7 229.5,339.7 230.0,339.0 230.5,338.4 231.0,338.3 231.5,338.8 232.0,339.8 232.5,341.0 233.0,342.7 233.5,345.1 234.0,347.8 234.5,350.8 235.0,354.2 235.5,357.8 236.0,361.5 236.5,365.4 237.0,369.4 237.5,373.3 238.0,376.8 238.5,380.0 239.0,383.1 239.5,386.5 240.0,390.0 240.5,393.6 241.0,397.3 241.5,401.0 242.0,404.9 242.5,409.2 243.0,413.8 243.5,418.2 244.0,422.1 244.5,425.1 245.0,427.6 245.5,429.9 246.0,431.9 246.5,433.6 247.0,435.0 247.5,436.0 248.0,437.0 248.5,437.8 249.0,438.5 249.5,439.2 250.0,439.8 250.5,440.4 251.0,440.9 251.5,441.4 252.0,441.9 252.5,442.3 253.0,442.7 253.5,443.1 254.0,443.4 254.5,443.7 255.0,444.1 255.5,444.4 256.0,444.8 256.5,445.2 257.0,445.7 257.5,446.2 258.0,446.7 258.5,447.3 259.0,447.9 259.5,448.5 260.0,449.2 260.5,449.8 261.0,450.5 261.5,451.1 262.0,451.7 262.5,452.3 263.0,452.8 263.5,453.4 264.0,453.8 264.5,454.3 265.0,454.7 265.5,455.1 266.0,455.4 266.5,455.8 267.0,456.2 267.5,456.5 268.0,456.8 268.5,457.2 269.0,457.5 269.5,457.7 270.0,458.0 270.5,458.3 271.0,458.5 271.5,458.7 272.0,458.9 272.5,459.2 273.0,459.4 273.5,459.6 274.0,459.8 274.5,460.0 275.0,460.1 275.5,460.3 276.0,460.5 276.5,460.6 277.0,460.8 277.5,460.9 278.0,461.0 278.5,461.1 279.0,461.2 279.5,461.3 280.0,461.4 280.5,461.5 281.0,461.6 281.5,461.7 282.0,461.7 282.5,461.8 283.0,461.9 283.5,462.0 284.0,462.0 284.5,462.1 285.0,462.2 285.5,462.2 286.0,462.3 286.5,462.3 287.0,462.4 287.5,462.5 288.0,462.5 288.5,462.6 289.0,462.6 289.5,462.7 290.0,462.7 290.5,462.8 291.0,462.9 291.5,462.9 292.0,463.0 292.5,463.0 293.0,463.1 293.5,463.1 294.0,463.2 294.5,463.2 295.0,463.3 295.5,463.4 296.0,463.4 296.5,463.5 297.0,463.5 297.5,463.5 298.0,463.6 298.5,463.6 299.0,463.7 299.5,463.7 300.0,463.8 300.5,463.8 301.0,463.8 301.5,463.9 302.0,463.9 302.5,463.9 303.0,463.9 303.5,464.0 304.0,464.0 304.5,464.0 305.0,464.0 305.5,464.0 306.0,464.0 306.5,464.0 307.0,464.1 307.5,464.1 308.0,464.1 308.5,464.1 309.0,464.1 309.5,464.1 310.0,464.1 310.5,464.1 311.0,464.1 311.5,464.1 312.0,464.1 312.5,464.2 313.0,464.2 313.5,464.2 314.0,464.2 314.5,464.2 315.0,464.2 315.5,464.2 316.0,464.2 316.5,464.2 317.0,464.2 317.5,464.2 318.0,464.2 318.5,464.2 319.0,464.3 319.5,464.3 320.0,464.3 320.5,464.3 321.0,464.3 321.5,464.3 322.0,464.3 322.5,464.3 323.0,464.3 323.5,464.3 324.0,464.3 324.5,464.3 325.0,464.3 325.5,464.3 326.0,464.3 326.5,464.3 327.0,464.3 327.5,464.3 328.0,464.3 328.5,464.3 329.0,464.3 329.5,464.4 330.0,464.4 330.5,464.4 331.0,464.4 331.5,464.4 332.0,464.4 332.5,464.4 333.0,464.4 333.5,464.4 334.0,464.4 334.5,464.4 335.0,464.4 335.5,464.4 336.0,464.4 336.5,464.4 337.0,464.4 337.5,464.4 338.0,464.4 338.5,464.4 339.0,464.4 339.5,464.4 340.0,464.4 340.5,464.4 341.0,464.4 341.5,464.4 342.0,464.4 342.5,464.4 343.0,464.4 343.5,464.4 344.0,464.4 344.5,464.4 345.0,464.4 345.5,464.4 346.0,464.5 346.5,464.5 347.0,464.5 347.5,464.5 348.0,464.5 348.5,464.5 349.0,464.5 349.5,464.5 350.0,464.5 350.5,464.5 351.0,464.5 351.5,464.5 352.0,464.5 352.5,464.5 353.0,464.5 353.5,464.5 354.0,464.5 354.5,464.5 355.0,464.5 355.5,464.5 356.0,464.5 356.5,464.5 357.0,464.5 357.5,464.5 358.0,464.5 358.5,464.5 359.0,464.5 359.5,464.5 360.0,464.5 360.5,464.5 361.0,464.5 361.5,464.5 362.0,464.5 362.5,464.5 363.0,464.5 363.5,464.5 364.0,464.5 364.5,464.5 365.0,464.5 365.5,464.5 366.0,464.5 366.5,464.5 367.0,464.6 367.5,464.6 368.0,464.6 368.5,464.6 369.0,464.6 369.5,464.6 370.0,464.6 370.5,464.6 371.0,464.6 371.5,464.6 372.0,464.6 372.5,464.6 373.0,464.6 373.5,464.6 374.0,464.6 374.5,464.6 375.0,464.6 375.5,464.6 376.0,464.6 376.5,464.6 377.0,464.6 377.5,464.6 378.0,464.6 378.5,464.6 379.0,464.6 379.5,464.6 380.0,464.6 380.5,464.6 381.0,464.6 381.5,464.6 382.0,464.6 382.5,464.6 383.0,464.6 383.5,464.6 384.0,464.6 384.5,464.6 385.0,464.6 385.5,464.6 386.0,464.6 386.5,464.6 387.0,464.6 387.5,464.6 388.0,464.6 388.5,464.6 389.0,464.6 389.5,464.6 390.0,464.6 390.5,464.6 391.0,464.6 391.5,464.6" fill="none" stroke="#ff00ff" stroke-width="2" stroke-linejoin="round" clip-path="url(#cc)"/>
<polyline points="429.4,465.5 429.9,465.5 430.4,465.5 430.9,465.5 431.4,465.5 431.9,465.5 432.4,465.5 432.9,465.5 433.4,465.5 433.9,465.5 434.4,465.5 434.9,465.5 435.4,465.5 435.9,465.5 436.4,465.5 436.9,465.5 437.4,465.5 437.9,465.5 438.4,465.5 438.9,465.5 439.4,465.5 439.9,465.5 440.4,465.5 440.9,465.5 441.4,465.5 441.9,465.5 442.4,465.5 442.9,465.5 443.4,465.5 443.9,465.5 444.4,465.5 444.9,465.5 445.4,465.5 445.9,465.5 446.4,465.5 446.9,465.5 447.4,465.5 447.9,465.5 448.4,465.5 448.9,465.5 449.4,465.5 449.9,465.5 450.4,465.5 450.9,465.5 451.4,465.5 451.9,465.5 452.4,465.5 452.9,465.5 453.4,465.5 453.9,465.5 454.4,465.5 454.9,465.5 455.4,465.5 455.9,465.5 456.4,465.5 456.9,465.5 457.4,465.5 457.9,465.5 458.4,465.5 458.9,465.5 459.4,465.5 459.9,465.5 460.4,465.5 460.9,465.5 461.4,465.5 461.9,465.5 462.4,465.5 462.9,465.5 463.4,465.5 463.9,465.5 464.4,465.5 464.9,465.5 465.4,465.5 465.9,465.5 466.4,465.5 466.9,465.5 467.4,465.5 467.9,465.5 468.4,465.5 468.9,465.5 469.4,465.5 469.9,465.5 470.4,465.5 470.9,465.5 471.4,465.5 471.9,465.5 472.4,465.5 472.9,465.5 473.4,465.5 473.9,465.5 474.4,465.5 474.9,465.5 475.4,465.5 475.9,465.5 476.4,465.5 476.9,465.5 477.4,465.5 477.9,465.5 478.4,465.5 478.9,465.5 479.4,465.5 479.9,465.5 480.4,465.5 480.9,465.5 481.4,465.5 481.9,465.5 482.4,465.5 482.9,465.5 483.4,465.5 483.9,465.5 484.4,465.5 484.9,465.5 485.4,465.5 485.9,465.5 486.4,465.5 486.9,465.5 487.4,465.5 487.9,465.5 488.4,465.5 488.9,465.5 489.4,465.5 489.9,465.5 490.4,465.5 490.9,465.5 491.4,465.5 491.9,465.5 492.4,465.5 492.9,465.5 493.4,465.5 493.9,465.5 494.4,465.5 494.9,465.5 495.4,465.5 495.9,465.5 496.4,465.5 496.9,465.5 497.4,465.5 497.9,465.5 498.4,465.5 498.9,465.5 499.4,465.5 499.9,465.5 500.4,465.5 500.9,465.5 501.4,465.5 501.9,465.5 502.4,465.5 502.9,465.5 503.4,465.5 503.9,465.5 504.4,465.5 504.9,465.5 505.4,465.5 505.9,465.5 506.4,465.5 506.9,465.5 507.4,465.5 507.9,465.5 508.4,465.5 508.9,465.5 509.4,465.5 509.9,465.5 510.4,465.5 510.9,465.5 511.4,465.5 511.9,465.5 512.4,465.5 512.9,465.5 513.4,465.5 513.9,465.5 514.4,465.5 514.9,465.5 515.4,465.5 515.9,465.5 516.4,465.4 516.9,465.4 517.4,465.4 517.9,465.4 518.4,465.4 518.9,465.4 519.4,465.4 519.9,465.4 520.4,465.4 520.9,465.3 521.4,465.3 521.9,465.3 522.4,465.3 522.9,465.3 523.4,465.3 523.9,465.2 524.4,465.2 524.9,465.2 525.4,465.2 525.9,465.2 526.4,465.2 526.9,465.1 527.4,465.1 527.9,465.1 528.4,465.1 528.9,465.0 529.4,465.0 529.9,465.0 530.4,465.0 530.9,465.0 531.4,464.9 531.9,464.9 532.4,464.9 532.9,464.8 533.4,464.8 533.9,464.8 534.4,464.7 534.9,464.7 535.4,464.6 535.9,464.5 536.4,464.5 536.9,464.4 537.4,464.3 537.9,464.2 538.4,464.1 538.9,464.0 539.4,464.0 539.9,463.9 540.4,463.8 540.9,463.7 541.4,463.6 541.9,463.5 542.4,463.4 542.9,463.3 543.4,463.1 543.9,463.0 544.4,462.9 544.9,462.7 545.4,462.6 545.9,462.4 546.4,462.3 546.9,462.1 547.4,461.9 547.9,461.8 548.4,461.6 548.9,461.4 549.4,461.2 549.9,461.1 550.4,460.9 550.9,460.7 551.4,460.5 551.9,460.2 552.4,460.0 552.9,459.8 553.4,459.5 553.9,459.2 554.4,458.9 554.9,458.6 555.4,458.2 555.9,457.8 556.4,457.4 556.9,457.0 557.4,456.6 557.9,456.1 558.4,455.7 558.9,455.2 559.4,454.7 559.9,454.2 560.4,453.6 560.9,453.1 561.4,452.5 561.9,451.9 562.4,451.2 562.9,450.5 563.4,449.8 563.9,449.1 564.4,448.3 564.9,447.5 565.4,446.7 565.9,445.8 566.4,444.8 566.9,443.8 567.4,442.7 567.9,441.6 568.4,440.5 568.9,439.3 569.4,438.0 569.9,436.7 570.4,435.3 570.9,433.8 571.4,432.2 571.9,430.6 572.4,428.8 572.9,426.8 573.4,424.6 573.9,422.1 574.4,419.5 574.9,416.8 575.4,414.1 575.9,411.5 576.4,408.9 576.9,406.4 577.4,403.9 577.9,401.4 578.4,399.0 578.9,396.5 579.4,394.0 579.9,391.5 580.4,389.0 580.9,386.6 581.4,384.1 581.9,381.7 582.4,379.3 582.9,376.8 583.4,374.3 583.9,371.6 584.4,368.9 584.9,365.9 585.4,362.8 585.9,359.6 586.4,356.3 586.9,353.1 587.4,350.0 587.9,347.0 588.4,343.9 588.9,340.9 589.4,337.9 589.9,335.0 590.4,332.1 590.9,329.2 591.4,326.1 591.9,322.9 592.4,319.8 592.9,316.9 593.4,314.3 593.9,311.8 594.4,309.5 594.9,307.2 595.4,305.0 595.9,302.8 596.4,300.7 596.9,298.7 597.4,296.8 597.9,295.0 598.4,293.3 598.9,291.7 599.4,290.3 599.9,289.0 600.4,287.7 600.9,286.6 601.4,285.9 601.9,285.3 602.4,284.8 602.9,284.5 603.4,284.4 603.9,284.6 604.4,285.0 604.9,285.5 605.4,286.1 605.9,287.0 606.4,288.2 606.9,289.5 607.4,290.9 607.9,292.4 608.4,294.0 608.9,295.7 609.4,297.6 609.9,299.5 610.4,301.5 610.9,303.7 611.4,305.9 611.9,308.1 612.4,310.4 612.9,312.8 613.4,315.3 613.9,318.0 614.4,321.0 614.9,324.2 615.4,327.4 615.9,330.4 616.4,333.3 616.9,336.2 617.4,339.1 617.9,342.1 618.4,345.1 618.9,348.2 619.4,351.3 619.9,354.4 620.4,357.6 620.9,360.8 621.4,364.0 621.9,367.1 622.4,370.0 622.9,372.7 623.4,375.3 623.9,377.8 624.4,380.3 624.9,382.7 625.4,385.1 625.9,387.5 626.4,390.0 626.9,392.5 627.4,395.0 627.9,397.5 628.4,399.9 628.9,402.4 629.4,404.9 629.9,407.4 630.4,409.9 630.9,412.5 631.4,415.2 631.9,417.9 632.4,420.6 632.9,423.1 633.4,425.5 633.9,427.6 634.4,429.5 634.9,431.2 635.4,432.9 635.9,434.4 636.4,435.9 636.9,437.3 637.4,438.6 637.9,439.8 638.4,441.0 638.9,442.1 639.4,443.2 639.9,444.2 640.4,445.2 640.9,446.1 641.4,447.0 641.9,447.9 642.4,448.6 642.9,449.4 643.4,450.1 643.9,450.8 644.4,451.5 644.9,452.1 645.4,452.7 645.9,453.3 646.4,453.9 646.9,454.4 647.4,454.9 647.9,455.4 648.4,455.9 648.9,456.3 649.4,456.8 649.9,457.2 650.4,457.6 650.9,458.0 651.4,458.4 651.9,458.7 652.4,459.0 652.9,459.3 653.4,459.6 653.9,459.9 654.4,460.1 654.9,460.3 655.4,460.5 655.9,460.7 656.4,460.9 656.9,461.1 657.4,461.3 657.9,461.5 658.4,461.7 658.9,461.8 659.4,462.0 659.9,462.2 660.4,462.3 660.9,462.5 661.4,462.7 661.9,462.8 662.4,462.9 662.9,463.1 663.4,463.2 663.9,463.3 664.4,463.4 664.9,463.5 665.4,463.6 665.9,463.7 666.4,463.8 666.9,463.9 667.4,464.0 667.9,464.1 668.4,464.2 668.9,464.3 669.4,464.3 669.9,464.4 670.4,464.5 670.9,464.6 671.4,464.6 671.9,464.7 672.4,464.7 672.9,464.8 673.4,464.8 673.9,464.9 674.4,464.9 674.9,464.9 675.4,464.9 675.9,465.0 676.4,465.0 676.9,465.0 677.4,465.0 677.9,465.1 678.4,465.1 678.9,465.1 679.4,465.1 679.9,465.1 680.4,465.2 680.9,465.2 681.4,465.2 681.9,465.2 682.4,465.2 682.9,465.3 683.4,465.3 683.9,465.3 684.4,465.3 684.9,465.3 685.4,465.3 685.9,465.3 686.4,465.4 686.9,465.4 687.4,465.4 687.9,465.4 688.4,465.4 688.9,465.4 689.4,465.4 689.9,465.4 690.4,465.4 690.9,465.5 691.4,465.5 691.9,465.5 692.4,465.5 692.9,465.5 693.4,465.5 693.9,465.5 694.4,465.5 694.9,465.5 695.4,465.5 695.9,465.5 696.4,465.5 696.9,465.5 697.4,465.5 697.9,465.5 698.4,465.5 698.9,465.5 699.4,465.5 699.9,465.5 700.4,465.5 700.9,465.5 701.4,465.5 701.9,465.5 702.4,465.5 702.9,465.5 703.4,465.5 703.9,465.5 704.4,465.5 704.9,465.5 705.4,465.5 705.9,465.5 706.4,465.5 706.9,465.5 707.4,465.5 707.9,465.5 708.4,465.5 708.9,465.5 709.4,465.5 709.9,465.5 710.4,465.5 710.9,465.5 711.4,465.5 711.9,465.5 712.4,465.5 712.9,465.5 713.4,465.5 713.9,465.5 714.4,465.5 714.9,465.5 715.4,465.5 715.9,465.5 716.4,465.5 716.9,465.5 717.4,465.5 717.9,465.5 718.4,465.5 718.9,465.5 719.4,465.5 719.9,465.5 720.4,465.5 720.9,465.5 721.4,465.5 721.9,465.5 722.4,465.5 722.9,465.5 723.4,465.5 723.9,465.5 724.4,465.5 724.9,465.5 725.4,465.5 725.9,465.5 726.4,465.5 726.9,465.5 727.4,465.5 727.9,465.5 728.4,465.5 728.9,465.5 729.4,465.5 729.9,465.5 730.4,465.5 730.9,465.5 731.4,465.5 731.9,465.5 732.4,465.5 732.9,465.5 733.4,465.5 733.9,465.5 734.4,465.5 734.9,465.5 735.4,465.5 735.9,465.5 736.4,465.5 736.9,465.5 737.4,465.5 737.9,465.5 738.4,465.5 738.9,465.5 739.4,465.5 739.9,465.5 740.4,465.5 740.9,465.5 741.4,465.5 741.9,465.5 742.4,465.5 742.9,465.5 743.4,465.5 743.9,465.5 744.4,465.5 744.9,465.5 745.4,465.5 745.9,465.5 746.4,465.5 746.9,465.5 747.4,465.5 747.9,465.5 748.4,465.5 748.9,465.5 749.4,465.5 749.9,465.5 750.4,465.5 750.9,465.5 751.4,465.5 751.9,465.5 752.4,465.5 752.9,465.5 753.4,465.5 753.9,465.5 754.4,465.5 754.9,465.5 755.4,465.5 755.9,465.5 756.4,465.5 756.9,465.5 757.4,465.5 757.9,465.5 758.4,465.5 758.9,465.5 759.4,465.5 759.9,465.5 760.4,465.5 760.9,465.5 761.4,465.5 761.9,465.5 762.4,465.5 762.9,465.5 763.4,465.5 763.9,465.5 764.4,465.5 764.9,465.5 765.4,465.5 765.9,465.5 766.4,465.5 766.9,465.5 767.4,465.5 767.9,465.5 768.4,465.5 768.9,465.5 769.4,465.5 769.9,465.5 770.4,465.5 770.9,465.5 771.4,465.5 771.9,465.5 772.4,465.5 772.9,465.5 773.4,465.5 773.9,465.5 774.4,465.5 774.9,465.5 775.4,465.5 775.9,465.5 776.4,465.5 776.9,465.5" fill="none" stroke="#000" stroke-width="2" stroke-linejoin="round" clip-path="url(#cd)"/>
<polyline points="429.4,465.5 429.9,465.5 430.4,465.5 430.9,465.5 431.4,465.5 431.9,465.5 432.4,465.5 432.9,465.5 433.4,465.5 433.9,465.5 434.4,465.5 434.9,465.5 435.4,465.5 435.9,465.5 436.4,465.5 436.9,465.5 437.4,465.5 437.9,465.5 438.4,465.5 438.9,465.5 439.4,465.5 439.9,465.5 440.4,465.5 440.9,465.5 441.4,465.5 441.9,465.5 442.4,465.5 442.9,465.5 443.4,465.5 443.9,465.5 444.4,465.5 444.9,465.5 445.4,465.5 445.9,465.5 446.4,465.5 446.9,465.5 447.4,465.5 447.9,465.5 448.4,465.5 448.9,465.5 449.4,465.5 449.9,465.5 450.4,465.5 450.9,465.5 451.4,465.5 451.9,465.5 452.4,465.5 452.9,465.5 453.4,465.5 453.9,465.5 454.4,465.5 454.9,465.5 455.4,465.5 455.9,465.5 456.4,465.5 456.9,465.5 457.4,465.5 457.9,465.5 458.4,465.5 458.9,465.5 459.4,465.5 459.9,465.5 460.4,465.5 460.9,465.5 461.4,465.5 461.9,465.5 462.4,465.5 462.9,465.5 463.4,465.5 463.9,465.5 464.4,465.5 464.9,465.5 465.4,465.5 465.9,465.5 466.4,465.5 466.9,465.5 467.4,465.5 467.9,465.5 468.4,465.5 468.9,465.5 469.4,465.5 469.9,465.5 470.4,465.5 470.9,465.5 471.4,465.5 471.9,465.5 472.4,465.5 472.9,465.5 473.4,465.5 473.9,465.5 474.4,465.5 474.9,465.5 475.4,465.5 475.9,465.5 476.4,465.5 476.9,465.5 477.4,465.5 477.9,465.5 478.4,465.5 478.9,465.5 479.4,465.5 479.9,465.5 480.4,465.5 480.9,465.5 481.4,465.5 481.9,465.5 482.4,465.5 482.9,465.5 483.4,465.5 483.9,465.5 484.4,465.5 484.9,465.5 485.4,465.5 485.9,465.5 486.4,465.5 486.9,465.5 487.4,465.5 487.9,465.5 488.4,465.5 488.9,465.5 489.4,465.5 489.9,465.5 490.4,465.5 490.9,465.5 491.4,465.5 491.9,465.5 492.4,465.5 492.9,465.5 493.4,465.5 493.9,465.5 494.4,465.5 494.9,465.5 495.4,465.5 495.9,465.5 496.4,465.5 496.9,465.5 497.4,465.5 497.9,465.5 498.4,465.5 498.9,465.5 499.4,465.5 499.9,465.5 500.4,465.5 500.9,465.5 501.4,465.5 501.9,465.5 502.4,465.5 502.9,465.5 503.4,465.5 503.9,465.5 504.4,465.5 504.9,465.5 505.4,465.5 505.9,465.5 506.4,465.5 506.9,465.5 507.4,465.5 507.9,465.5 508.4,465.5 508.9,465.5 509.4,465.5 509.9,465.5 510.4,465.5 510.9,465.5 511.4,465.5 511.9,465.5 512.4,465.5 512.9,465.5 513.4,465.5 513.9,465.5 514.4,465.5 514.9,465.5 515.4,465.5 515.9,465.5 516.4,465.5 516.9,465.5 517.4,465.5 517.9,465.5 518.4,465.5 518.9,465.5 519.4,465.5 519.9,465.5 520.4,465.5 520.9,465.5 521.4,465.5 521.9,465.5 522.4,465.5 522.9,465.5 523.4,465.5 523.9,465.5 524.4,465.5 524.9,465.4 525.4,465.4 525.9,465.4 526.4,465.4 526.9,465.4 527.4,465.4 527.9,465.4 528.4,465.3 528.9,465.3 529.4,465.3 529.9,465.3 530.4,465.3 530.9,465.2 531.4,465.2 531.9,465.2 532.4,465.2 532.9,465.2 533.4,465.1 533.9,465.1 534.4,465.1 534.9,465.0 535.4,465.0 535.9,465.0 536.4,465.0 536.9,464.9 537.4,464.9 537.9,464.9 538.4,464.8 538.9,464.8 539.4,464.7 539.9,464.6 540.4,464.6 540.9,464.5 541.4,464.4 541.9,464.3 542.4,464.2 542.9,464.1 543.4,464.0 543.9,463.9 544.4,463.7 544.9,463.6 545.4,463.5 545.9,463.3 546.4,463.2 546.9,463.1 547.4,462.9 547.9,462.8 548.4,462.6 548.9,462.4 549.4,462.2 549.9,462.0 550.4,461.8 550.9,461.5 551.4,461.3 551.9,461.0 552.4,460.7 552.9,460.4 553.4,460.1 553.9,459.8 554.4,459.4 554.9,459.0 555.4,458.6 555.9,458.2 556.4,457.8 556.9,457.4 557.4,456.9 557.9,456.5 558.4,456.1 558.9,455.7 559.4,455.3 559.9,454.9 560.4,454.5 560.9,454.1 561.4,453.7 561.9,453.3 562.4,452.9 562.9,452.6 563.4,452.3 563.9,452.1 564.4,451.9 564.9,451.7 565.4,451.6 565.9,451.5 566.4,451.4 566.9,451.3 567.4,451.2 567.9,451.2 568.4,451.3 568.9,451.4 569.4,451.6 569.9,451.9 570.4,452.2 570.9,452.6 571.4,452.9 571.9,453.4 572.4,454.2 572.9,455.2 573.4,456.4 573.9,457.6 574.4,458.7 574.9,459.7 575.4,460.7 575.9,461.7 576.4,462.7 576.9,463.7 577.4,464.5 577.9,465.0 578.4,465.3 578.9,465.2 579.4,464.8 579.9,464.2 580.4,463.4 580.9,462.3 581.4,461.1 581.9,458.6 582.4,454.7 582.9,450.4 583.4,446.1 583.9,441.5 584.4,436.5 584.9,431.4 585.4,426.4 585.9,421.3 586.4,416.1 586.9,411.0 587.4,405.9 587.9,401.0 588.4,396.1 588.9,390.7 589.4,384.3 589.9,377.2 590.4,370.3 590.9,364.1 591.4,358.2 591.9,352.9 592.4,348.2 592.9,344.0 593.4,340.2 593.9,336.4 594.4,332.8 594.9,329.3 595.4,326.0 595.9,322.7 596.4,319.4 596.9,316.2 597.4,313.2 597.9,310.6 598.4,308.2 598.9,305.9 599.4,304.1 599.9,302.8 600.4,301.7 600.9,300.7 601.4,299.8 601.9,299.0 602.4,298.4 602.9,298.1 603.4,298.0 603.9,298.2 604.4,298.7 604.9,299.3 605.4,300.1 605.9,301.1 606.4,302.2 606.9,303.3 607.4,304.8 607.9,306.8 608.4,309.1 608.9,311.6 609.4,314.4 609.9,317.5 610.4,320.7 610.9,324.0 611.4,327.3 611.9,330.7 612.4,334.2 612.9,337.9 613.4,341.7 613.9,345.7 614.4,350.0 614.9,354.9 615.4,360.5 615.9,366.5 616.4,373.0 616.9,380.1 617.4,387.0 617.9,392.9 618.4,398.1 618.9,403.0 619.4,407.9 619.9,413.0 620.4,418.2 620.9,423.3 621.4,428.4 621.9,433.5 622.4,438.5 622.9,443.4 623.4,447.8 623.9,452.1 624.4,456.4 624.9,459.8 625.4,461.6 625.9,462.8 626.4,463.7 626.9,464.5 627.4,465.0 627.9,465.3 628.4,465.2 628.9,464.8 629.4,464.2 629.9,463.3 630.4,462.3 630.9,461.3 631.4,460.2 631.9,459.3 632.4,458.3 632.9,457.1 633.4,455.9 633.9,454.8 634.4,453.9 634.9,453.2 635.4,452.8 635.9,452.4 636.4,452.1 636.9,451.8 637.4,451.5 637.9,451.3 638.4,451.2 638.9,451.2 639.4,451.2 639.9,451.3 640.4,451.4 640.9,451.5 641.4,451.7 641.9,451.8 642.4,452.0 642.9,452.2 643.4,452.4 643.9,452.7 644.4,453.0 644.9,453.4 645.4,453.8 645.9,454.2 646.4,454.7 646.9,455.1 647.4,455.5 647.9,455.9 648.4,456.3 648.9,456.7 649.4,457.1 649.9,457.5 650.4,458.0 650.9,458.4 651.4,458.8 651.9,459.2 652.4,459.6 652.9,459.9 653.4,460.2 653.9,460.5 654.4,460.8 654.9,461.1 655.4,461.4 655.9,461.6 656.4,461.9 656.9,462.1 657.4,462.3 657.9,462.5 658.4,462.7 658.9,462.8 659.4,463.0 659.9,463.1 660.4,463.3 660.9,463.4 661.4,463.5 661.9,463.7 662.4,463.8 662.9,463.9 663.4,464.0 663.9,464.1 664.4,464.2 664.9,464.3 665.4,464.4 665.9,464.5 666.4,464.6 666.9,464.7 667.4,464.7 667.9,464.8 668.4,464.8 668.9,464.9 669.4,464.9 669.9,464.9 670.4,465.0 670.9,465.0 671.4,465.0 671.9,465.1 672.4,465.1 672.9,465.1 673.4,465.1 673.9,465.2 674.4,465.2 674.9,465.2 675.4,465.2 675.9,465.3 676.4,465.3 676.9,465.3 677.4,465.3 677.9,465.3 678.4,465.4 678.9,465.4 679.4,465.4 679.9,465.4 680.4,465.4 680.9,465.4 681.4,465.4 681.9,465.5 682.4,465.5 682.9,465.5 683.4,465.5 683.9,465.5 684.4,465.5 684.9,465.5 685.4,465.5 685.9,465.5 686.4,465.5 686.9,465.5 687.4,465.5 687.9,465.5 688.4,465.5 688.9,465.5 689.4,465.5 689.9,465.5 690.4,465.5 690.9,465.5 691.4,465.5 691.9,465.5 692.4,465.5 692.9,465.5 693.4,465.5 693.9,465.5 694.4,465.5 694.9,465.5 695.4,465.5 695.9,465.5 696.4,465.5 696.9,465.5 697.4,465.5 697.9,465.5 698.4,465.5 698.9,465.5 699.4,465.5 699.9,465.5 700.4,465.5 700.9,465.5 701.4,465.5 701.9,465.5 702.4,465.5 702.9,465.5 703.4,465.5 703.9,465.5 704.4,465.5 704.9,465.5 705.4,465.5 705.9,465.5 706.4,465.5 706.9,465.5 707.4,465.5 707.9,465.5 708.4,465.5 708.9,465.5 709.4,465.5 709.9,465.5 710.4,465.5 710.9,465.5 711.4,465.5 711.9,465.5 712.4,465.5 712.9,465.5 713.4,465.5 713.9,465.5 714.4,465.5 714.9,465.5 715.4,465.5 715.9,465.5 716.4,465.5 716.9,465.5 717.4,465.5 717.9,465.5 718.4,465.5 718.9,465.5 719.4,465.5 719.9,465.5 720.4,465.5 720.9,465.5 721.4,465.5 721.9,465.5 722.4,465.5 722.9,465.5 723.4,465.5 723.9,465.5 724.4,465.5 724.9,465.5 725.4,465.5 725.9,465.5 726.4,465.5 726.9,465.5 727.4,465.5 727.9,465.5 728.4,465.5 728.9,465.5 729.4,465.5 729.9,465.5 730.4,465.5 730.9,465.5 731.4,465.5 731.9,465.5 732.4,465.5 732.9,465.5 733.4,465.5 733.9,465.5 734.4,465.5 734.9,465.5 735.4,465.5 735.9,465.5 736.4,465.5 736.9,465.5 737.4,465.5 737.9,465.5 738.4,465.5 738.9,465.5 739.4,465.5 739.9,465.5 740.4,465.5 740.9,465.5 741.4,465.5 741.9,465.5 742.4,465.5 742.9,465.5 743.4,465.5 743.9,465.5 744.4,465.5 744.9,465.5 745.4,465.5 745.9,465.5 746.4,465.5 746.9,465.5 747.4,465.5 747.9,465.5 748.4,465.5 748.9,465.5 749.4,465.5 749.9,465.5 750.4,465.5 750.9,465.5 751.4,465.5 751.9,465.5 752.4,465.5 752.9,465.5 753.4,465.5 753.9,465.5 754.4,465.5 754.9,465.5 755.4,465.5 755.9,465.5 756.4,465.5 756.9,465.5 757.4,465.5 757.9,465.5 758.4,465.5 758.9,465.5 759.4,465.5 759.9,465.5 760.4,465.5 760.9,465.5 761.4,465.5 761.9,465.5 762.4,465.5 762.9,465.5 763.4,465.5 763.9,465.5 764.4,465.5 764.9,465.5 765.4,465.5 765.9,465.5 766.4,465.5 766.9,465.5 767.4,465.5 767.9,465.5 768.4,465.5 768.9,465.5 769.4,465.5 769.9,465.5 770.4,465.5 770.9,465.5 771.4,465.5 771.9,465.5 772.4,465.5 772.9,465.5 773.4,465.5 773.9,465.5 774.4,465.5 774.9,465.5 775.4,465.5 775.9,465.5 776.4,465.5 776.9,465.5" fill="none" stroke="#ff0000" stroke-width="2" stroke-linejoin="round" clip-path="url(#cd)"/>
<polyline points="429.4,465.5 429.9,465.5 430.4,465.5 430.9,465.5 431.4,465.5 431.9,465.5 432.4,465.5 432.9,465.5 433.4,465.5 433.9,465.5 434.4,465.5 434.9,465.5 435.4,465.5 435.9,465.5 436.4,465.5 436.9,465.5 437.4,465.5 437.9,465.5 438.4,465.5 438.9,465.5 439.4,465.5 439.9,465.5 440.4,465.5 440.9,465.5 441.4,465.5 441.9,465.5 442.4,465.5 442.9,465.5 443.4,465.5 443.9,465.5 444.4,465.5 444.9,465.5 445.4,465.5 445.9,465.5 446.4,465.5 446.9,465.5 447.4,465.5 447.9,465.5 448.4,465.5 448.9,465.5 449.4,465.5 449.9,465.5 450.4,465.5 450.9,465.5 451.4,465.5 451.9,465.5 452.4,465.5 452.9,465.5 453.4,465.5 453.9,465.5 454.4,465.5 454.9,465.5 455.4,465.5 455.9,465.5 456.4,465.5 456.9,465.5 457.4,465.5 457.9,465.5 458.4,465.5 458.9,465.5 459.4,465.5 459.9,465.5 460.4,465.5 460.9,465.5 461.4,465.5 461.9,465.5 462.4,465.5 462.9,465.5 463.4,465.5 463.9,465.5 464.4,465.5 464.9,465.5 465.4,465.5 465.9,465.5 466.4,465.5 466.9,465.5 467.4,465.5 467.9,465.5 468.4,465.5 468.9,465.5 469.4,465.5 469.9,465.5 470.4,465.5 470.9,465.5 471.4,465.5 471.9,465.5 472.4,465.5 472.9,465.5 473.4,465.5 473.9,465.5 474.4,465.5 474.9,465.5 475.4,465.5 475.9,465.5 476.4,465.5 476.9,465.5 477.4,465.5 477.9,465.5 478.4,465.5 478.9,465.5 479.4,465.5 479.9,465.5 480.4,465.5 480.9,465.5 481.4,465.5 481.9,465.5 482.4,465.5 482.9,465.5 483.4,465.5 483.9,465.5 484.4,465.5 484.9,465.5 485.4,465.5 485.9,465.5 486.4,465.5 486.9,465.5 487.4,465.5 487.9,465.5 488.4,465.5 488.9,465.5 489.4,465.5 489.9,465.5 490.4,465.5 490.9,465.5 491.4,465.5 491.9,465.5 492.4,465.5 492.9,465.5 493.4,465.5 493.9,465.5 494.4,465.5 494.9,465.5 495.4,465.5 495.9,465.5 496.4,465.5 496.9,465.5 497.4,465.5 497.9,465.5 498.4,465.5 498.9,465.5 499.4,465.5 499.9,465.5 500.4,465.5 500.9,465.5 501.4,465.5 501.9,465.5 502.4,465.5 502.9,465.5 503.4,465.5 503.9,465.5 504.4,465.5 504.9,465.5 505.4,465.5 505.9,465.5 506.4,465.5 506.9,465.5 507.4,465.5 507.9,465.5 508.4,465.5 508.9,465.5 509.4,465.5 509.9,465.5 510.4,465.5 510.9,465.5 511.4,465.5 511.9,465.5 512.4,465.5 512.9,465.5 513.4,465.5 513.9,465.5 514.4,465.5 514.9,465.5 515.4,465.5 515.9,465.5 516.4,465.5 516.9,465.5 517.4,465.5 517.9,465.5 518.4,465.5 518.9,465.5 519.4,465.5 519.9,465.5 520.4,465.5 520.9,465.5 521.4,465.5 521.9,465.5 522.4,465.5 522.9,465.5 523.4,465.5 523.9,465.5 524.4,465.5 524.9,465.5 525.4,465.5 525.9,465.5 526.4,465.5 526.9,465.5 527.4,465.5 527.9,465.5 528.4,465.5 528.9,465.5 529.4,465.5 529.9,465.5 530.4,465.5 530.9,465.5 531.4,465.5 531.9,465.5 532.4,465.5 532.9,465.5 533.4,465.5 533.9,465.5 534.4,465.5 534.9,465.5 535.4,465.5 535.9,465.5 536.4,465.5 536.9,465.5 537.4,465.5 537.9,465.5 538.4,465.5 538.9,465.5 539.4,465.5 539.9,465.5 540.4,465.5 540.9,465.5 541.4,465.5 541.9,465.5 542.4,465.5 542.9,465.5 543.4,465.5 543.9,465.5 544.4,465.5 544.9,465.5 545.4,465.5 545.9,465.5 546.4,465.5 546.9,465.5 547.4,465.5 547.9,465.5 548.4,465.5 548.9,465.5 549.4,465.5 549.9,465.5 550.4,465.5 550.9,465.5 551.4,465.5 551.9,465.5 552.4,465.5 552.9,465.5 553.4,465.5 553.9,465.5 554.4,465.5 554.9,465.5 555.4,465.5 555.9,465.5 556.4,465.5 556.9,465.5 557.4,465.5 557.9,465.5 558.4,465.5 558.9,465.5 559.4,465.5 559.9,465.5 560.4,465.5 560.9,465.5 561.4,465.5 561.9,465.5 562.4,465.5 562.9,465.5 563.4,465.5 563.9,465.5 564.4,465.5 564.9,465.4 565.4,465.4 565.9,465.4 566.4,465.4 566.9,465.4 567.4,465.3 567.9,465.3 568.4,465.3 568.9,465.2 569.4,464.9 569.9,464.5 570.4,464.0 570.9,463.3 571.4,462.6 571.9,461.8 572.4,460.9 572.9,460.0 573.4,458.6 573.9,456.9 574.4,455.0 574.9,452.9 575.4,450.9 575.9,449.0 576.4,447.2 576.9,445.5 577.4,443.8 577.9,441.8 578.4,439.5 578.9,436.6 579.4,433.3 579.9,429.8 580.4,426.3 580.9,422.8 581.4,419.2 581.9,415.8 582.4,412.8 582.9,409.9 583.4,407.2 583.9,405.0 584.4,403.4 584.9,402.1 585.4,400.8 585.9,399.9 586.4,399.3 586.9,399.3 587.4,399.8 587.9,401.0 588.4,402.5 588.9,404.4 589.4,406.4 589.9,408.5 590.4,410.9 590.9,414.0 591.4,417.6 591.9,421.5 592.4,425.2 592.9,428.4 593.4,431.3 593.9,434.1 594.4,436.7 594.9,439.3 595.4,441.7 595.9,443.9 596.4,446.1 596.9,448.3 597.4,450.5 597.9,452.6 598.4,454.4 598.9,455.9 599.4,457.1 599.9,457.7 600.4,458.3 600.9,458.8 601.4,459.2 601.9,459.5 602.4,459.8 602.9,460.0 603.4,460.0 603.9,459.9 604.4,459.7 604.9,459.4 605.4,459.0 605.9,458.5 606.4,457.9 606.9,457.3 607.4,456.4 607.9,455.1 608.4,453.3 608.9,451.3 609.4,449.0 609.9,446.7 610.4,444.4 610.9,442.1 611.4,439.7 611.9,437.2 612.4,434.5 612.9,431.7 613.4,428.7 613.9,425.6 614.4,422.0 614.9,418.1 615.4,414.2 615.9,410.6 616.4,407.6 616.9,405.3 617.4,403.2 617.9,401.1 618.4,399.3 618.9,397.9 619.4,396.9 619.9,396.5 620.4,396.8 620.9,397.6 621.4,398.7 621.9,400.1 622.4,401.5 622.9,403.4 623.4,406.0 623.9,408.9 624.4,411.9 624.9,415.2 625.4,418.9 625.9,422.6 626.4,426.2 626.9,429.8 627.4,433.4 627.9,436.7 628.4,439.5 628.9,441.7 629.4,443.7 629.9,445.5 630.4,447.2 630.9,449.1 631.4,451.2 631.9,453.3 632.4,455.4 632.9,457.3 633.4,459.0 633.9,460.2 634.4,461.1 634.9,462.0 635.4,462.8 635.9,463.5 636.4,464.1 636.9,464.6 637.4,465.0 637.9,465.2 638.4,465.3 638.9,465.3 639.4,465.4 639.9,465.4 640.4,465.4 640.9,465.4 641.4,465.4 641.9,465.4 642.4,465.5 642.9,465.5 643.4,465.5 643.9,465.5 644.4,465.5 644.9,465.5 645.4,465.5 645.9,465.5 646.4,465.5 646.9,465.5 647.4,465.5 647.9,465.5 648.4,465.5 648.9,465.5 649.4,465.5 649.9,465.5 650.4,465.5 650.9,465.5 651.4,465.5 651.9,465.5 652.4,465.5 652.9,465.5 653.4,465.5 653.9,465.5 654.4,465.5 654.9,465.5 655.4,465.5 655.9,465.5 656.4,465.5 656.9,465.5 657.4,465.5 657.9,465.5 658.4,465.5 658.9,465.5 659.4,465.5 659.9,465.5 660.4,465.5 660.9,465.5 661.4,465.5 661.9,465.5 662.4,465.5 662.9,465.5 663.4,465.5 663.9,465.5 664.4,465.5 664.9,465.5 665.4,465.5 665.9,465.5 666.4,465.5 666.9,465.5 667.4,465.5 667.9,465.5 668.4,465.5 668.9,465.5 669.4,465.5 669.9,465.5 670.4,465.5 670.9,465.5 671.4,465.5 671.9,465.5 672.4,465.5 672.9,465.5 673.4,465.5 673.9,465.5 674.4,465.5 674.9,465.5 675.4,465.5 675.9,465.5 676.4,465.5 676.9,465.5 677.4,465.5 677.9,465.5 678.4,465.5 678.9,465.5 679.4,465.5 679.9,465.5 680.4,465.5 680.9,465.5 681.4,465.5 681.9,465.5 682.4,465.5 682.9,465.5 683.4,465.5 683.9,465.5 684.4,465.5 684.9,465.5 685.4,465.5 685.9,465.5 686.4,465.5 686.9,465.5 687.4,465.5 687.9,465.5 688.4,465.5 688.9,465.5 689.4,465.5 689.9,465.5 690.4,465.5 690.9,465.5 691.4,465.5 691.9,465.5 692.4,465.5 692.9,465.5 693.4,465.5 693.9,465.5 694.4,465.5 694.9,465.5 695.4,465.5 695.9,465.5 696.4,465.5 696.9,465.5 697.4,465.5 697.9,465.5 698.4,465.5 698.9,465.5 699.4,465.5 699.9,465.5 700.4,465.5 700.9,465.5 701.4,465.5 701.9,465.5 702.4,465.5 702.9,465.5 703.4,465.5 703.9,465.5 704.4,465.5 704.9,465.5 705.4,465.5 705.9,465.5 706.4,465.5 706.9,465.5 707.4,465.5 707.9,465.5 708.4,465.5 708.9,465.5 709.4,465.5 709.9,465.5 710.4,465.5 710.9,465.5 711.4,465.5 711.9,465.5 712.4,465.5 712.9,465.5 713.4,465.5 713.9,465.5 714.4,465.5 714.9,465.5 715.4,465.5 715.9,465.5 716.4,465.5 716.9,465.5 717.4,465.5 717.9,465.5 718.4,465.5 718.9,465.5 719.4,465.5 719.9,465.5 720.4,465.5 720.9,465.5 721.4,465.5 721.9,465.5 722.4,465.5 722.9,465.5 723.4,465.5 723.9,465.5 724.4,465.5 724.9,465.5 725.4,465.5 725.9,465.5 726.4,465.5 726.9,465.5 727.4,465.5 727.9,465.5 728.4,465.5 728.9,465.5 729.4,465.5 729.9,465.5 730.4,465.5 730.9,465.5 731.4,465.5 731.9,465.5 732.4,465.5 732.9,465.5 733.4,465.5 733.9,465.5 734.4,465.5 734.9,465.5 735.4,465.5 735.9,465.5 736.4,465.5 736.9,465.5 737.4,465.5 737.9,465.5 738.4,465.5 738.9,465.5 739.4,465.5 739.9,465.5 740.4,465.5 740.9,465.5 741.4,465.5 741.9,465.5 742.4,465.5 742.9,465.5 743.4,465.5 743.9,465.5 744.4,465.5 744.9,465.5 745.4,465.5 745.9,465.5 746.4,465.5 746.9,465.5 747.4,465.5 747.9,465.5 748.4,465.5 748.9,465.5 749.4,465.5 749.9,465.5 750.4,465.5 750.9,465.5 751.4,465.5 751.9,465.5 752.4,465.5 752.9,465.5 753.4,465.5 753.9,465.5 754.4,465.5 754.9,465.5 755.4,465.5 755.9,465.5 756.4,465.5 756.9,465.5 757.4,465.5 757.9,465.5 758.4,465.5 758.9,465.5 759.4,465.5 759.9,465.5 760.4,465.5 760.9,465.5 761.4,465.5 761.9,465.5 762.4,465.5 762.9,465.5 763.4,465.5 763.9,465.5 764.4,465.5 764.9,465.5 765.4,465.5 765.9,465.5 766.4,465.5 766.9,465.5 767.4,465.5 767.9,465.5 768.4,465.5 768.9,465.5 769.4,465.5 769.9,465.5 770.4,465.5 770.9,465.5 771.4,465.5 771.9,465.5 772.4,465.5 772.9,465.5 773.4,465.5 773.9,465.5 774.4,465.5 774.9,465.5 775.4,465.5 775.9,465.5 776.4,465.5 776.9,465.5" fill="none" stroke="#00fa00" stroke-width="2" stroke-linejoin="round" clip-path="url(#cd)"/>
<polyline points="429.4,465.5 429.9,465.5 430.4,465.5 430.9,465.5 431.4,465.5 431.9,465.5 432.4,465.5 432.9,465.5 433.4,465.5 433.9,465.5 434.4,465.5 434.9,465.5 435.4,465.5 435.9,465.5 436.4,465.5 436.9,465.5 437.4,465.5 437.9,465.5 438.4,465.5 438.9,465.5 439.4,465.5 439.9,465.5 440.4,465.5 440.9,465.5 441.4,465.5 441.9,465.5 442.4,465.5 442.9,465.5 443.4,465.5 443.9,465.5 444.4,465.5 444.9,465.5 445.4,465.5 445.9,465.5 446.4,465.5 446.9,465.5 447.4,465.5 447.9,465.5 448.4,465.5 448.9,465.5 449.4,465.5 449.9,465.5 450.4,465.5 450.9,465.5 451.4,465.5 451.9,465.5 452.4,465.5 452.9,465.5 453.4,465.5 453.9,465.5 454.4,465.5 454.9,465.5 455.4,465.5 455.9,465.5 456.4,465.5 456.9,465.5 457.4,465.5 457.9,465.5 458.4,465.5 458.9,465.5 459.4,465.5 459.9,465.5 460.4,465.5 460.9,465.5 461.4,465.5 461.9,465.5 462.4,465.5 462.9,465.5 463.4,465.5 463.9,465.5 464.4,465.5 464.9,465.5 465.4,465.5 465.9,465.5 466.4,465.5 466.9,465.5 467.4,465.5 467.9,465.5 468.4,465.5 468.9,465.5 469.4,465.5 469.9,465.5 470.4,465.5 470.9,465.5 471.4,465.5 471.9,465.5 472.4,465.5 472.9,465.5 473.4,465.5 473.9,465.5 474.4,465.5 474.9,465.5 475.4,465.5 475.9,465.5 476.4,465.5 476.9,465.5 477.4,465.5 477.9,465.5 478.4,465.5 478.9,465.5 479.4,465.5 479.9,465.5 480.4,465.5 480.9,465.5 481.4,465.5 481.9,465.5 482.4,465.5 482.9,465.5 483.4,465.5 483.9,465.5 484.4,465.5 484.9,465.5 485.4,465.5 485.9,465.5 486.4,465.5 486.9,465.5 487.4,465.5 487.9,465.5 488.4,465.5 488.9,465.5 489.4,465.5 489.9,465.5 490.4,465.5 490.9,465.5 491.4,465.5 491.9,465.5 492.4,465.5 492.9,465.5 493.4,465.5 493.9,465.5 494.4,465.5 494.9,465.5 495.4,465.5 495.9,465.5 496.4,465.5 496.9,465.5 497.4,465.5 497.9,465.5 498.4,465.5 498.9,465.5 499.4,465.5 499.9,465.5 500.4,465.5 500.9,465.5 501.4,465.5 501.9,465.5 502.4,465.5 502.9,465.5 503.4,465.5 503.9,465.5 504.4,465.5 504.9,465.5 505.4,465.5 505.9,465.5 506.4,465.5 506.9,465.5 507.4,465.5 507.9,465.5 508.4,465.5 508.9,465.5 509.4,465.5 509.9,465.5 510.4,465.5 510.9,465.5 511.4,465.5 511.9,465.5 512.4,465.5 512.9,465.5 513.4,465.5 513.9,465.5 514.4,465.5 514.9,465.5 515.4,465.5 515.9,465.5 516.4,465.5 516.9,465.5 517.4,465.5 517.9,465.5 518.4,465.5 518.9,465.5 519.4,465.5 519.9,465.5 520.4,465.5 520.9,465.5 521.4,465.5 521.9,465.5 522.4,465.5 522.9,465.5 523.4,465.5 523.9,465.5 524.4,465.5 524.9,465.5 525.4,465.5 525.9,465.5 526.4,465.5 526.9,465.5 527.4,465.5 527.9,465.5 528.4,465.5 528.9,465.5 529.4,465.5 529.9,465.5 530.4,465.5 530.9,465.5 531.4,465.5 531.9,465.5 532.4,465.5 532.9,465.5 533.4,465.5 533.9,465.5 534.4,465.5 534.9,465.5 535.4,465.5 535.9,465.5 536.4,465.5 536.9,465.5 537.4,465.5 537.9,465.5 538.4,465.5 538.9,465.5 539.4,465.5 539.9,465.5 540.4,465.5 540.9,465.5 541.4,465.5 541.9,465.5 542.4,465.5 542.9,465.5 543.4,465.5 543.9,465.5 544.4,465.5 544.9,465.5 545.4,465.5 545.9,465.5 546.4,465.5 546.9,465.5 547.4,465.5 547.9,465.5 548.4,465.5 548.9,465.5 549.4,465.5 549.9,465.5 550.4,465.5 550.9,465.5 551.4,465.5 551.9,465.5 552.4,465.5 552.9,465.5 553.4,465.5 553.9,465.5 554.4,465.5 554.9,465.5 555.4,465.5 555.9,465.5 556.4,465.5 556.9,465.5 557.4,465.5 557.9,465.5 558.4,465.5 558.9,465.5 559.4,465.5 559.9,465.5 560.4,465.5 560.9,465.4 561.4,465.4 561.9,465.4 562.4,465.4 562.9,465.4 563.4,465.4 563.9,465.4 564.4,465.4 564.9,465.3 565.4,465.2 565.9,465.0 566.4,464.8 566.9,464.5 567.4,464.2 567.9,463.9 568.4,463.5 568.9,463.1 569.4,462.7 569.9,462.1 570.4,461.3 570.9,460.2 571.4,459.0 571.9,457.6 572.4,456.1 572.9,454.5 573.4,452.9 573.9,451.4 574.4,449.6 574.9,447.6 575.4,445.5 575.9,443.3 576.4,441.2 576.9,439.2 577.4,437.1 577.9,434.8 578.4,432.5 578.9,430.6 579.4,429.3 579.9,428.7 580.4,428.1 580.9,427.7 581.4,427.5 581.9,427.4 582.4,428.2 582.9,429.7 583.4,431.6 583.9,433.6 584.4,435.6 584.9,437.9 585.4,440.4 585.9,442.9 586.4,445.3 586.9,447.9 587.4,450.4 587.9,452.9 588.4,455.2 588.9,457.2 589.4,458.9 589.9,460.7 590.4,462.3 590.9,463.8 591.4,464.8 591.9,465.3 592.4,465.2 592.9,464.8 593.4,464.1 593.9,463.2 594.4,462.2 594.9,461.2 595.4,460.1 595.9,458.6 596.4,456.9 596.9,455.0 597.4,453.1 597.9,451.3 598.4,449.4 598.9,447.4 599.4,445.4 599.9,443.6 600.4,442.2 600.9,441.2 601.4,440.2 601.9,439.3 602.4,438.7 602.9,438.2 603.4,438.1 603.9,438.3 604.4,438.8 604.9,439.5 605.4,440.3 605.9,441.1 606.4,442.2 606.9,443.7 607.4,445.5 607.9,447.6 608.4,449.6 608.9,451.5 609.4,453.4 609.9,455.3 610.4,457.2 610.9,458.9 611.4,460.3 611.9,461.4 612.4,462.5 612.9,463.5 613.4,464.3 613.9,464.9 614.4,465.3 614.9,465.2 615.4,464.4 615.9,463.1 616.4,461.5 616.9,459.7 617.4,457.9 617.9,456.0 618.4,453.8 618.9,451.3 619.4,448.7 619.9,446.0 620.4,443.4 620.9,440.9 621.4,438.3 621.9,435.7 622.4,433.4 622.9,431.4 623.4,429.3 623.9,427.4 624.4,426.1 624.9,425.7 625.4,425.8 625.9,426.2 626.4,426.7 626.9,427.2 627.4,428.1 627.9,429.8 628.4,432.0 628.9,434.4 629.4,436.7 629.9,438.8 630.4,441.0 630.9,443.2 631.4,445.5 631.9,447.6 632.4,449.6 632.9,451.4 633.4,453.0 633.9,454.7 634.4,456.3 634.9,457.8 635.4,459.2 635.9,460.4 636.4,461.5 636.9,462.2 637.4,462.8 637.9,463.2 638.4,463.6 638.9,464.0 639.4,464.3 639.9,464.6 640.4,464.9 640.9,465.1 641.4,465.2 641.9,465.3 642.4,465.4 642.9,465.4 643.4,465.4 643.9,465.4 644.4,465.4 644.9,465.4 645.4,465.4 645.9,465.4 646.4,465.5 646.9,465.5 647.4,465.5 647.9,465.5 648.4,465.5 648.9,465.5 649.4,465.5 649.9,465.5 650.4,465.5 650.9,465.5 651.4,465.5 651.9,465.5 652.4,465.5 652.9,465.5 653.4,465.5 653.9,465.5 654.4,465.5 654.9,465.5 655.4,465.5 655.9,465.5 656.4,465.5 656.9,465.5 657.4,465.5 657.9,465.5 658.4,465.5 658.9,465.5 659.4,465.5 659.9,465.5 660.4,465.5 660.9,465.5 661.4,465.5 661.9,465.5 662.4,465.5 662.9,465.5 663.4,465.5 663.9,465.5 664.4,465.5 664.9,465.5 665.4,465.5 665.9,465.5 666.4,465.5 666.9,465.5 667.4,465.5 667.9,465.5 668.4,465.5 668.9,465.5 669.4,465.5 669.9,465.5 670.4,465.5 670.9,465.5 671.4,465.5 671.9,465.5 672.4,465.5 672.9,465.5 673.4,465.5 673.9,465.5 674.4,465.5 674.9,465.5 675.4,465.5 675.9,465.5 676.4,465.5 676.9,465.5 677.4,465.5 677.9,465.5 678.4,465.5 678.9,465.5 679.4,465.5 679.9,465.5 680.4,465.5 680.9,465.5 681.4,465.5 681.9,465.5 682.4,465.5 682.9,465.5 683.4,465.5 683.9,465.5 684.4,465.5 684.9,465.5 685.4,465.5 685.9,465.5 686.4,465.5 686.9,465.5 687.4,465.5 687.9,465.5 688.4,465.5 688.9,465.5 689.4,465.5 689.9,465.5 690.4,465.5 690.9,465.5 691.4,465.5 691.9,465.5 692.4,465.5 692.9,465.5 693.4,465.5 693.9,465.5 694.4,465.5 694.9,465.5 695.4,465.5 695.9,465.5 696.4,465.5 696.9,465.5 697.4,465.5 697.9,465.5 698.4,465.5 698.9,465.5 699.4,465.5 699.9,465.5 700.4,465.5 700.9,465.5 701.4,465.5 701.9,465.5 702.4,465.5 702.9,465.5 703.4,465.5 703.9,465.5 704.4,465.5 704.9,465.5 705.4,465.5 705.9,465.5 706.4,465.5 706.9,465.5 707.4,465.5 707.9,465.5 708.4,465.5 708.9,465.5 709.4,465.5 709.9,465.5 710.4,465.5 710.9,465.5 711.4,465.5 711.9,465.5 712.4,465.5 712.9,465.5 713.4,465.5 713.9,465.5 714.4,465.5 714.9,465.5 715.4,465.5 715.9,465.5 716.4,465.5 716.9,465.5 717.4,465.5 717.9,465.5 718.4,465.5 718.9,465.5 719.4,465.5 719.9,465.5 720.4,465.5 720.9,465.5 721.4,465.5 721.9,465.5 722.4,465.5 722.9,465.5 723.4,465.5 723.9,465.5 724.4,465.5 724.9,465.5 725.4,465.5 725.9,465.5 726.4,465.5 726.9,465.5 727.4,465.5 727.9,465.5 728.4,465.5 728.9,465.5 729.4,465.5 729.9,465.5 730.4,465.5 730.9,465.5 731.4,465.5 731.9,465.5 732.4,465.5 732.9,465.5 733.4,465.5 733.9,465.5 734.4,465.5 734.9,465.5 735.4,465.5 735.9,465.5 736.4,465.5 736.9,465.5 737.4,465.5 737.9,465.5 738.4,465.5 738.9,465.5 739.4,465.5 739.9,465.5 740.4,465.5 740.9,465.5 741.4,465.5 741.9,465.5 742.4,465.5 742.9,465.5 743.4,465.5 743.9,465.5 744.4,465.5 744.9,465.5 745.4,465.5 745.9,465.5 746.4,465.5 746.9,465.5 747.4,465.5 747.9,465.5 748.4,465.5 748.9,465.5 749.4,465.5 749.9,465.5 750.4,465.5 750.9,465.5 751.4,465.5 751.9,465.5 752.4,465.5 752.9,465.5 753.4,465.5 753.9,465.5 754.4,465.5 754.9,465.5 755.4,465.5 755.9,465.5 756.4,465.5 756.9,465.5 757.4,465.5 757.9,465.5 758.4,465.5 758.9,465.5 759.4,465.5 759.9,465.5 760.4,465.5 760.9,465.5 761.4,465.5 761.9,465.5 762.4,465.5 762.9,465.5 763.4,465.5 763.9,465.5 764.4,465.5 764.9,465.5 765.4,465.5 765.9,465.5 766.4,465.5 766.9,465.5 767.4,465.5 767.9,465.5 768.4,465.5 768.9,465.5 769.4,465.5 769.9,465.5 770.4,465.5 770.9,465.5 771.4,465.5 771.9,465.5 772.4,465.5 772.9,465.5 773.4,465.5 773.9,465.5 774.4,465.5 774.9,465.5 775.4,465.5 775.9,465.5 776.4,465.5 776.9,465.5" fill="none" stroke="#0000ff" stroke-width="2" stroke-linejoin="round" clip-path="url(#cd)"/>
<polyline points="429.4,465.5 429.9,465.5 430.4,465.5 430.9,465.5 431.4,465.5 431.9,465.5 432.4,465.5 432.9,465.5 433.4,465.5 433.9,465.5 434.4,465.5 434.9,465.5 435.4,465.5 435.9,465.5 436.4,465.5 436.9,465.5 437.4,465.5 437.9,465.5 438.4,465.5 438.9,465.5 439.4,465.5 439.9,465.5 440.4,465.5 440.9,465.5 441.4,465.5 441.9,465.5 442.4,465.5 442.9,465.5 443.4,465.5 443.9,465.5 444.4,465.5 444.9,465.5 445.4,465.5 445.9,465.5 446.4,465.5 446.9,465.5 447.4,465.5 447.9,465.5 448.4,465.5 448.9,465.5 449.4,465.5 449.9,465.5 450.4,465.5 450.9,465.5 451.4,465.5 451.9,465.5 452.4,465.5 452.9,465.5 453.4,465.5 453.9,465.5 454.4,465.5 454.9,465.5 455.4,465.5 455.9,465.5 456.4,465.5 456.9,465.5 457.4,465.5 457.9,465.5 458.4,465.5 458.9,465.5 459.4,465.5 459.9,465.5 460.4,465.5 460.9,465.5 461.4,465.5 461.9,465.5 462.4,465.5 462.9,465.5 463.4,465.5 463.9,465.5 464.4,465.5 464.9,465.5 465.4,465.5 465.9,465.5 466.4,465.5 466.9,465.5 467.4,465.5 467.9,465.5 468.4,465.5 468.9,465.5 469.4,465.5 469.9,465.5 470.4,465.5 470.9,465.5 471.4,465.5 471.9,465.5 472.4,465.5 472.9,465.5 473.4,465.5 473.9,465.5 474.4,465.5 474.9,465.5 475.4,465.5 475.9,465.5 476.4,465.5 476.9,465.5 477.4,465.5 477.9,465.5 478.4,465.5 478.9,465.5 479.4,465.5 479.9,465.5 480.4,465.5 480.9,465.5 481.4,465.5 481.9,465.5 482.4,465.5 482.9,465.5 483.4,465.5 483.9,465.5 484.4,465.5 484.9,465.5 485.4,465.5 485.9,465.5 486.4,465.5 486.9,465.5 487.4,465.5 487.9,465.5 488.4,465.5 488.9,465.5 489.4,465.5 489.9,465.5 490.4,465.5 490.9,465.5 491.4,465.5 491.9,465.5 492.4,465.5 492.9,465.5 493.4,465.5 493.9,465.5 494.4,465.5 494.9,465.5 495.4,465.5 495.9,465.5 496.4,465.5 496.9,465.5 497.4,465.5 497.9,465.5 498.4,465.5 498.9,465.5 499.4,465.5 499.9,465.5 500.4,465.5 500.9,465.5 501.4,465.5 501.9,465.5 502.4,465.5 502.9,465.5 503.4,465.5 503.9,465.5 504.4,465.5 504.9,465.5 505.4,465.5 505.9,465.5 506.4,465.5 506.9,465.5 507.4,465.5 507.9,465.5 508.4,465.5 508.9,465.5 509.4,465.5 509.9,465.5 510.4,465.5 510.9,465.5 511.4,465.5 511.9,465.5 512.4,465.5 512.9,465.5 513.4,465.5 513.9,465.5 514.4,465.5 514.9,465.5 515.4,465.5 515.9,465.5 516.4,465.5 516.9,465.5 517.4,465.5 517.9,465.5 518.4,465.5 518.9,465.5 519.4,465.5 519.9,465.5 520.4,465.5 520.9,465.5 521.4,465.5 521.9,465.5 522.4,465.5 522.9,465.5 523.4,465.5 523.9,465.5 524.4,465.5 524.9,465.5 525.4,465.5 525.9,465.5 526.4,465.5 526.9,465.5 527.4,465.5 527.9,465.5 528.4,465.5 528.9,465.5 529.4,465.5 529.9,465.5 530.4,465.5 530.9,465.5 531.4,465.5 531.9,465.5 532.4,465.5 532.9,465.5 533.4,465.5 533.9,465.5 534.4,465.5 534.9,465.5 535.4,465.5 535.9,465.5 536.4,465.5 536.9,465.5 537.4,465.5 537.9,465.5 538.4,465.5 538.9,465.5 539.4,465.5 539.9,465.5 540.4,465.5 540.9,465.5 541.4,465.5 541.9,465.5 542.4,465.5 542.9,465.5 543.4,465.5 543.9,465.4 544.4,465.4 544.9,465.4 545.4,465.4 545.9,465.4 546.4,465.3 546.9,465.3 547.4,465.3 547.9,465.3 548.4,465.2 548.9,465.2 549.4,465.2 549.9,465.2 550.4,465.1 550.9,465.1 551.4,465.1 551.9,465.0 552.4,465.0 552.9,464.9 553.4,464.9 553.9,464.9 554.4,464.8 554.9,464.7 555.4,464.6 555.9,464.6 556.4,464.5 556.9,464.3 557.4,464.2 557.9,464.1 558.4,464.0 558.9,463.8 559.4,463.7 559.9,463.5 560.4,463.3 560.9,463.1 561.4,462.9 561.9,462.7 562.4,462.5 562.9,462.2 563.4,461.9 563.9,461.5 564.4,461.1 564.9,460.7 565.4,460.2 565.9,459.8 566.4,459.3 566.9,458.8 567.4,458.3 567.9,457.7 568.4,457.1 568.9,456.4 569.4,455.7 569.9,455.1 570.4,454.3 570.9,453.6 571.4,452.7 571.9,451.8 572.4,450.9 572.9,450.0 573.4,449.2 573.9,448.5 574.4,447.8 574.9,447.1 575.4,446.4 575.9,445.8 576.4,445.3 576.9,445.0 577.4,444.8 577.9,444.9 578.4,445.4 578.9,446.1 579.4,447.1 579.9,448.2 580.4,449.4 580.9,450.7 581.4,452.0 581.9,453.6 582.4,455.5 582.9,457.5 583.4,459.4 583.9,461.7 584.4,464.0 584.9,465.3 585.4,465.2 585.9,464.6 586.4,463.9 586.9,463.1 587.4,462.4 587.9,461.5 588.4,460.5 588.9,459.4 589.4,458.3 589.9,457.2 590.4,456.2 590.9,455.2 591.4,454.3 591.9,453.4 592.4,452.3 592.9,451.1 593.4,449.6 593.9,447.8 594.4,444.9 594.9,440.4 595.4,434.8 595.9,428.8 596.4,422.9 596.9,417.6 597.4,412.0 597.9,406.0 598.4,400.2 598.9,395.0 599.4,391.1 599.9,388.7 600.4,386.8 600.9,385.1 601.4,383.6 601.9,382.3 602.4,381.4 602.9,380.8 603.4,380.7 603.9,381.0 604.4,381.6 604.9,382.5 605.4,383.7 605.9,385.2 606.4,386.8 606.9,388.6 607.4,391.4 607.9,395.9 608.4,401.4 608.9,407.4 609.4,413.3 609.9,418.7 610.4,424.4 610.9,430.5 611.4,436.5 611.9,441.8 612.4,445.9 612.9,448.2 613.4,449.9 613.9,451.3 614.4,452.5 614.9,453.5 615.4,454.5 615.9,455.4 616.4,456.4 616.9,457.5 617.4,458.6 617.9,459.7 618.4,460.8 618.9,461.8 619.4,462.6 619.9,463.4 620.4,464.2 620.9,464.9 621.4,465.3 621.9,464.9 622.4,463.1 622.9,460.6 623.4,458.5 623.9,456.5 624.4,454.5 624.9,452.6 625.4,451.2 625.9,449.9 626.4,448.6 626.9,447.4 627.4,446.3 627.9,445.4 628.4,444.7 628.9,444.4 629.4,444.4 629.9,444.7 630.4,445.1 630.9,445.7 631.4,446.3 631.9,447.0 632.4,447.8 632.9,448.5 633.4,449.2 633.9,450.1 634.4,451.0 634.9,451.9 635.4,452.8 635.9,453.7 636.4,454.4 636.9,455.1 637.4,455.8 637.9,456.5 638.4,457.1 638.9,457.8 639.4,458.3 639.9,458.9 640.4,459.4 640.9,459.9 641.4,460.3 641.9,460.8 642.4,461.2 642.9,461.6 643.4,462.0 643.9,462.3 644.4,462.6 644.9,462.8 645.4,463.0 645.9,463.2 646.4,463.3 646.9,463.5 647.4,463.7 647.9,463.8 648.4,464.0 648.9,464.1 649.4,464.3 649.9,464.4 650.4,464.5 650.9,464.6 651.4,464.7 651.9,464.7 652.4,464.8 652.9,464.9 653.4,464.9 653.9,464.9 654.4,465.0 654.9,465.0 655.4,465.1 655.9,465.1 656.4,465.1 656.9,465.2 657.4,465.2 657.9,465.2 658.4,465.3 658.9,465.3 659.4,465.3 659.9,465.3 660.4,465.4 660.9,465.4 661.4,465.4 661.9,465.4 662.4,465.4 662.9,465.4 663.4,465.5 663.9,465.5 664.4,465.5 664.9,465.5 665.4,465.5 665.9,465.5 666.4,465.5 666.9,465.5 667.4,465.5 667.9,465.5 668.4,465.5 668.9,465.5 669.4,465.5 669.9,465.5 670.4,465.5 670.9,465.5 671.4,465.5 671.9,465.5 672.4,465.5 672.9,465.5 673.4,465.5 673.9,465.5 674.4,465.5 674.9,465.5 675.4,465.5 675.9,465.5 676.4,465.5 676.9,465.5 677.4,465.5 677.9,465.5 678.4,465.5 678.9,465.5 679.4,465.5 679.9,465.5 680.4,465.5 680.9,465.5 681.4,465.5 681.9,465.5 682.4,465.5 682.9,465.5 683.4,465.5 683.9,465.5 684.4,465.5 684.9,465.5 685.4,465.5 685.9,465.5 686.4,465.5 686.9,465.5 687.4,465.5 687.9,465.5 688.4,465.5 688.9,465.5 689.4,465.5 689.9,465.5 690.4,465.5 690.9,465.5 691.4,465.5 691.9,465.5 692.4,465.5 692.9,465.5 693.4,465.5 693.9,465.5 694.4,465.5 694.9,465.5 695.4,465.5 695.9,465.5 696.4,465.5 696.9,465.5 697.4,465.5 697.9,465.5 698.4,465.5 698.9,465.5 699.4,465.5 699.9,465.5 700.4,465.5 700.9,465.5 701.4,465.5 701.9,465.5 702.4,465.5 702.9,465.5 703.4,465.5 703.9,465.5 704.4,465.5 704.9,465.5 705.4,465.5 705.9,465.5 706.4,465.5 706.9,465.5 707.4,465.5 707.9,465.5 708.4,465.5 708.9,465.5 709.4,465.5 709.9,465.5 710.4,465.5 710.9,465.5 711.4,465.5 711.9,465.5 712.4,465.5 712.9,465.5 713.4,465.5 713.9,465.5 714.4,465.5 714.9,465.5 715.4,465.5 715.9,465.5 716.4,465.5 716.9,465.5 717.4,465.5 717.9,465.5 718.4,465.5 718.9,465.5 719.4,465.5 719.9,465.5 720.4,465.5 720.9,465.5 721.4,465.5 721.9,465.5 722.4,465.5 722.9,465.5 723.4,465.5 723.9,465.5 724.4,465.5 724.9,465.5 725.4,465.5 725.9,465.5 726.4,465.5 726.9,465.5 727.4,465.5 727.9,465.5 728.4,465.5 728.9,465.5 729.4,465.5 729.9,465.5 730.4,465.5 730.9,465.5 731.4,465.5 731.9,465.5 732.4,465.5 732.9,465.5 733.4,465.5 733.9,465.5 734.4,465.5 734.9,465.5 735.4,465.5 735.9,465.5 736.4,465.5 736.9,465.5 737.4,465.5 737.9,465.5 738.4,465.5 738.9,465.5 739.4,465.5 739.9,465.5 740.4,465.5 740.9,465.5 741.4,465.5 741.9,465.5 742.4,465.5 742.9,465.5 743.4,465.5 743.9,465.5 744.4,465.5 744.9,465.5 745.4,465.5 745.9,465.5 746.4,465.5 746.9,465.5 747.4,465.5 747.9,465.5 748.4,465.5 748.9,465.5 749.4,465.5 749.9,465.5 750.4,465.5 750.9,465.5 751.4,465.5 751.9,465.5 752.4,465.5 752.9,465.5 753.4,465.5 753.9,465.5 754.4,465.5 754.9,465.5 755.4,465.5 755.9,465.5 756.4,465.5 756.9,465.5 757.4,465.5 757.9,465.5 758.4,465.5 758.9,465.5 759.4,465.5 759.9,465.5 760.4,465.5 760.9,465.5 761.4,465.5 761.9,465.5 762.4,465.5 762.9,465.5 763.4,465.5 763.9,465.5 764.4,465.5 764.9,465.5 765.4,465.5 765.9,465.5 766.4,465.5 766.9,465.5 767.4,465.5 767.9,465.5 768.4,465.5 768.9,465.5 769.4,465.5 769.9,465.5 770.4,465.5 770.9,465.5 771.4,465.5 771.9,465.5 772.4,465.5 772.9,465.5 773.4,465.5 773.9,465.5 774.4,465.5 774.9,465.5 775.4,465.5 775.9,465.5 776.4,465.5 776.9,465.5" fill="none" stroke="#ff00ff" stroke-width="2" stroke-linejoin="round" clip-path="url(#cd)"/>
<path d="M46.8,5.2H364.8V181.3H46.8ZM46.8,181.3v8M46.8,5.2v8M152.8,181.3v8M152.8,5.2v8M258.8,181.3v8M258.8,5.2v8M364.8,181.3v8M364.8,5.2v8M99.8,181.3v4M99.8,5.2v4M205.8,181.3v4M205.8,5.2v4M311.8,181.3v4M311.8,5.2v4M46.8,181.3h-8M364.8,181.3h-8M46.8,127.1h-8M364.8,127.1h-8M46.8,72.9h-8M364.8,72.9h-8M46.8,18.7h-8M364.8,18.7h-8M46.8,154.2h-4M364.8,154.2h-4M46.8,100h-4M364.8,100h-4M46.8,45.8h-4M364.8,45.8h-4" fill="none" stroke="#000" stroke-width="1.3" stroke-linecap="square"/>
<path d="M422.7,8.75H741.3V180.9H422.7ZM422.7,180.9v8M422.7,8.75v8M528.9,180.9v8M528.9,8.75v8M635.1,180.9v8M635.1,8.75v8M741.3,180.9v8M741.3,8.75v8M475.8,180.9v4M475.8,8.75v4M582,180.9v4M582,8.75v4M688.2,180.9v4M688.2,8.75v4M422.7,180.9h-8M741.3,180.9h-8M422.7,123.52h-8M741.3,123.52h-8M422.7,66.13h-8M741.3,66.13h-8M422.7,8.75h-8M741.3,8.75h-8M422.7,152.21h-4M741.3,152.21h-4M422.7,94.83h-4M741.3,94.83h-4M422.7,37.44h-4M741.3,37.44h-4" fill="none" stroke="#000" stroke-width="1.3" stroke-linecap="square"/>
<path d="M45,281.2H357.6V466.1H45ZM45,466.1v8M45,281.2v8M123.15,466.1v8M123.15,281.2v8M201.3,466.1v8M201.3,281.2v8M279.45,466.1v8M279.45,281.2v8M357.6,466.1v8M357.6,281.2v8M84.08,466.1v4M84.08,281.2v4M162.23,466.1v4M162.23,281.2v4M240.38,466.1v4M240.38,281.2v4M318.53,466.1v4M318.53,281.2v4M45,464.7h-8M357.6,464.7h-8M45,403.53h-8M357.6,403.53h-8M45,342.37h-8M357.6,342.37h-8M45,281.2h-8M357.6,281.2h-8M45,434.12h-4M357.6,434.12h-4M45,372.95h-4M357.6,372.95h-4M45,311.78h-4M357.6,311.78h-4" fill="none" stroke="#000" stroke-width="1.3" stroke-linecap="square"/>
<path d="M429.4,281.2H741.9V466.3H429.4ZM429.4,466.3v8M429.4,281.2v8M468.46,466.3v8M468.46,281.2v8M507.52,466.3v8M507.52,281.2v8M546.59,466.3v8M546.59,281.2v8M585.65,466.3v8M585.65,281.2v8M624.71,466.3v8M624.71,281.2v8M663.77,466.3v8M663.77,281.2v8M702.84,466.3v8M702.84,281.2v8M741.9,466.3v8M741.9,281.2v8M448.93,466.3v4M448.93,281.2v4M487.99,466.3v4M487.99,281.2v4M527.06,466.3v4M527.06,281.2v4M566.12,466.3v4M566.12,281.2v4M605.18,466.3v4M605.18,281.2v4M644.24,466.3v4M644.24,281.2v4M683.31,466.3v4M683.31,281.2v4M722.37,466.3v4M722.37,281.2v4M429.4,466.3h-8M741.9,466.3h-8M429.4,404.6h-8M741.9,404.6h-8M429.4,342.9h-8M741.9,342.9h-8M429.4,281.2h-8M741.9,281.2h-8M429.4,435.45h-4M741.9,435.45h-4M429.4,373.75h-4M741.9,373.75h-4M429.4,312.05h-4M741.9,312.05h-4" fill="none" stroke="#000" stroke-width="1.3" stroke-linecap="square"/>
<text x="46.8" y="206.8" font-size="18" text-anchor="middle" >0</text>
<text x="152.8" y="206.8" font-size="18" text-anchor="middle" >20</text>
<text x="258.8" y="206.8" font-size="18" text-anchor="middle" >40</text>
<text x="364.8" y="206.8" font-size="18" text-anchor="middle" >60</text>
<text x="33.5" y="187.5" font-size="18" text-anchor="end" >0</text>
<text x="33.5" y="133.3" font-size="18" text-anchor="end" >1</text>
<text x="33.5" y="79.1" font-size="18" text-anchor="end" >2</text>
<text x="33.5" y="25.3" font-size="18" text-anchor="end" >3</text>
<text x="422.7" y="208.8" font-size="18" text-anchor="middle" >0</text>
<text x="528.9" y="208.8" font-size="18" text-anchor="middle" >20</text>
<text x="635.1" y="208.8" font-size="18" text-anchor="middle" >40</text>
<text x="741.3" y="208.8" font-size="18" text-anchor="middle" >60</text>
<text x="408.1" y="186.5" font-size="18" text-anchor="end" >0</text>
<text x="408.1" y="129.12" font-size="18" text-anchor="end" >1</text>
<text x="408.1" y="71.73" font-size="18" text-anchor="end" >2</text>
<text x="408.1" y="15.35" font-size="18" text-anchor="end" >3</text>
<text x="45" y="494.6" font-size="18" text-anchor="middle" >-4</text>
<text x="123.15" y="494.6" font-size="18" text-anchor="middle" >-2</text>
<text x="201.3" y="494.6" font-size="18" text-anchor="middle" >0</text>
<text x="279.45" y="494.6" font-size="18" text-anchor="middle" >2</text>
<text x="357.6" y="494.6" font-size="18" text-anchor="middle" >4</text>
<text x="30" y="470.4" font-size="18" text-anchor="end" >0</text>
<text x="30" y="409.23" font-size="18" text-anchor="end" >1</text>
<text x="30" y="348.07" font-size="18" text-anchor="end" >2</text>
<text x="30" y="286.9" font-size="18" text-anchor="end" >3</text>
<text x="429.4" y="494.6" font-size="18" text-anchor="middle" >-4</text>
<text x="468.46" y="494.6" font-size="18" text-anchor="middle" >-3</text>
<text x="507.52" y="494.6" font-size="18" text-anchor="middle" >-2</text>
<text x="546.59" y="494.6" font-size="18" text-anchor="middle" >-1</text>
<text x="585.65" y="494.6" font-size="18" text-anchor="middle" >0</text>
<text x="624.71" y="494.6" font-size="18" text-anchor="middle" >1</text>
<text x="663.77" y="494.6" font-size="18" text-anchor="middle" >2</text>
<text x="702.84" y="494.6" font-size="18" text-anchor="middle" >3</text>
<text x="741.9" y="494.6" font-size="18" text-anchor="middle" >4</text>
<text x="414.7" y="471.8" font-size="18" text-anchor="end" >0</text>
<text x="414.7" y="410.1" font-size="18" text-anchor="end" >1</text>
<text x="414.7" y="348.4" font-size="18" text-anchor="end" >2</text>
<text x="414.7" y="286.7" font-size="18" text-anchor="end" >3</text>
<text x="205.5" y="225.8" font-size="18.5" text-anchor="middle" >Propagation length (mm)</text>
<text x="581.8" y="226.4" font-size="18.5" text-anchor="middle" >Propagation length (mm)</text>
<text x="201.4" y="510" font-size="18.5" text-anchor="middle" >Time (ns)</text>
<text x="587" y="510.1" font-size="18.5" text-anchor="middle" >Time (ns)</text>
<text transform="translate(16.6,119.3) rotate(-90)" font-size="18.5">P<tspan font-size="13.5" dy="4.7">f</tspan><tspan dy="-4.7" dx="2.0"> (W)</tspan></text>
<text transform="translate(390.2,123.2) rotate(-90)" font-size="18.5">P<tspan font-size="12.8" dy="4.9">sh</tspan><tspan dy="-4.9"> (W)</tspan></text>
<text transform="translate(16.2,373.5) rotate(-90)" font-size="18.5" text-anchor="middle">Power (W)</text>
<text transform="translate(401.2,373.8) rotate(-90)" font-size="18.5" text-anchor="middle">Power (W)</text>
<text x="-0.8" y="18.2" font-size="21" text-anchor="start" >(a)</text>
<text x="365.9" y="15" font-size="21" text-anchor="start" >(b)</text>
<text x="-0.5" y="272.3" font-size="20.4" text-anchor="start" >(c)</text>
<text x="375.8" y="272.1" font-size="21" text-anchor="start" >(d)</text>
<rect x="80.6" y="11.6" width="148.8" height="60.5" fill="#fff" stroke="#000" stroke-width="1.3"/>
<path d="M101.00,29.20L113.00,29.20L107.10,17.60Z M102.49,27.80L106.65,19.87L110.69,27.80Z" fill="#000" fill-rule="evenodd"/>
<text font-size="15" y="28.4"><tspan x="113.5">β=20 m</tspan><tspan font-size="9.5" x="158.1" y="23.0">-</tspan><tspan font-size="9.5" x="161.6" y="22.4">1</tspan><tspan x="166.3" y="28.4">, P</tspan><tspan font-size="9.8" x="181.7" y="31.9">f0</tspan><tspan x="188.6" y="28.4">=</tspan></text>
<path d="M82.4,44.2H117" stroke="#000" stroke-width="2"/>
<path d="M158.1,44.2H192.7" stroke="#ff0000" stroke-width="2"/>
<text x="119.3" y="49.6" font-size="14.5" text-anchor="start" >0.100,</text>
<text x="195.6" y="49.6" font-size="14.5" text-anchor="start" >1.067</text>
<path d="M82.4,62.4H117" stroke="#00fa00" stroke-width="2"/>
<path d="M158.1,62.4H192.7" stroke="#0000ff" stroke-width="2"/>
<text x="119.3" y="67.8" font-size="14.5" text-anchor="start" >2.033,</text>
<text x="191.6" y="67.8" font-size="14.5" text-anchor="start" >3.000</text>
<rect x="60.9" y="295.6" width="72.9" height="128.3" fill="#fff" stroke="#000" stroke-width="1.3"/>
<path d="M75.70,314.70L86.30,314.70L81.08,304.60Z M77.09,313.40L80.69,306.65L84.18,313.40Z" fill="#000" fill-rule="evenodd"/>
<text font-size="16.5" y="314.7"><tspan x="85.6">β (m</tspan><tspan font-size="10.5" x="117.2" y="309.0">-</tspan><tspan font-size="10.5" x="119.8" y="308.6">1</tspan><tspan x="126.8" y="314.7">)</tspan></text>
<path d="M62,329.70H100.7" stroke="#000" stroke-width="2"/>
<text x="104.2" y="335.4" font-size="16.5" text-anchor="start" >0</text>
<path d="M62,350.45H100.7" stroke="#ff0000" stroke-width="2"/>
<text x="104.2" y="356.15" font-size="16.5" text-anchor="start" >20</text>
<path d="M62,371.20H100.7" stroke="#00fa00" stroke-width="2"/>
<text x="104.2" y="376.9" font-size="16.5" text-anchor="start" >60</text>
<path d="M62,391.95H100.7" stroke="#0000ff" stroke-width="2"/>
<text x="104.2" y="397.65" font-size="16.5" text-anchor="start" >80</text>
<path d="M62,412.70H100.7" stroke="#ff00ff" stroke-width="2"/>
<text x="104.2" y="418.4" font-size="16.5" text-anchor="start" >100</text>
</svg></body></html>
